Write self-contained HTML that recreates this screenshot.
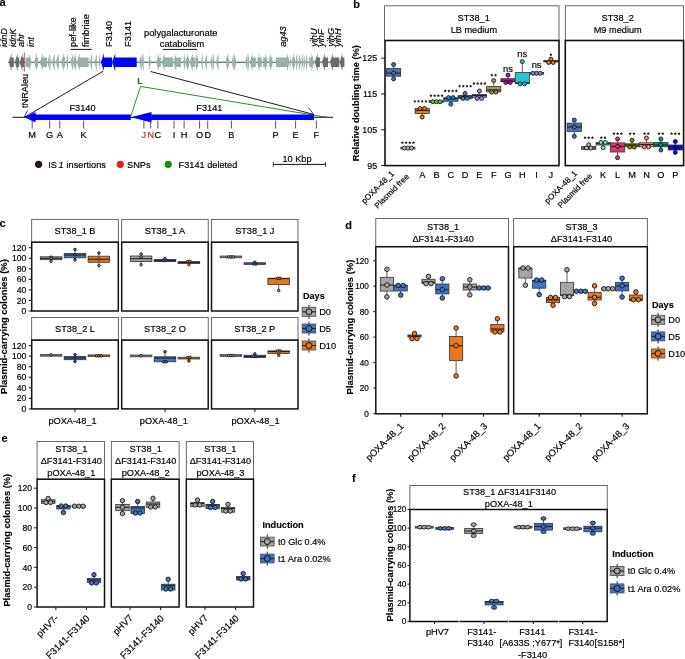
<!DOCTYPE html>
<html><head><meta charset="utf-8"><style>
html,body{margin:0;padding:0;background:#fff;width:685px;height:659px;overflow:hidden}
svg{display:block;font-family:"Liberation Sans", sans-serif;will-change:transform}
</style></head><body>
<svg width="685" height="659" viewBox="0 0 685 659" font-family="Liberation Sans, sans-serif">
<rect width="685" height="659" fill="#fff"/>
<text x="-0.50" y="5.60" font-size="11" font-weight="bold" stroke="#000" stroke-width="0.12">a</text>
<line x1="8.00" y1="62.20" x2="344.00" y2="62.20" stroke="#4a4040" stroke-width="1.1"/>
<polygon points="8.70,62.20 11.50,53.20 11.50,57.50 13.80,57.50 13.80,66.90 11.50,66.90 11.50,71.20" fill="#6b6b6b" stroke="none" stroke-width="0"/>
<polygon points="14.80,62.20 17.60,53.20 17.60,57.50 19.20,57.50 19.20,66.90 17.60,66.90 17.60,71.20" fill="#6b6b6b" stroke="none" stroke-width="0"/>
<polygon points="19.60,62.20 22.40,53.20 22.40,57.50 24.00,57.50 24.00,66.90 22.40,66.90 22.40,71.20" fill="#6b6b6b" stroke="none" stroke-width="0"/>
<polygon points="31.70,62.20 28.90,53.20 28.90,57.50 25.50,57.50 25.50,66.90 28.90,66.90 28.90,71.20" fill="#95b0a9" stroke="none" stroke-width="0"/>
<polygon points="34.10,62.20 36.90,53.20 36.90,57.50 38.20,57.50 38.20,66.90 36.90,66.90 36.90,71.20" fill="#95b0a9" stroke="none" stroke-width="0"/>
<polygon points="39.90,62.20 42.70,53.20 42.70,57.50 47.00,57.50 47.00,66.90 42.70,66.90 42.70,71.20" fill="#95b0a9" stroke="none" stroke-width="0"/>
<polygon points="47.50,62.20 49.60,53.20 49.60,57.50 49.60,57.50 49.60,66.90 49.60,66.90 49.60,71.20" fill="#95b0a9" stroke="none" stroke-width="0"/>
<polygon points="49.90,62.20 51.00,53.20 51.00,57.50 51.00,57.50 51.00,66.90 51.00,66.90 51.00,71.20" fill="#95b0a9" stroke="none" stroke-width="0"/>
<polygon points="51.90,62.20 54.60,53.20 54.60,57.50 54.60,57.50 54.60,66.90 54.60,66.90 54.60,71.20" fill="#95b0a9" stroke="none" stroke-width="0"/>
<polygon points="55.70,62.20 58.50,53.20 58.50,57.50 58.90,57.50 58.90,66.90 58.50,66.90 58.50,71.20" fill="#95b0a9" stroke="none" stroke-width="0"/>
<polygon points="61.00,62.20 63.80,53.20 63.80,57.50 65.10,57.50 65.10,66.90 63.80,66.90 63.80,71.20" fill="#95b0a9" stroke="none" stroke-width="0"/>
<polygon points="66.00,62.20 68.00,53.20 68.00,57.50 68.00,57.50 68.00,66.90 68.00,66.90 68.00,71.20" fill="#95b0a9" stroke="none" stroke-width="0"/>
<polygon points="70.40,62.20 73.20,53.20 73.20,57.50 73.20,57.50 73.20,66.90 73.20,66.90 73.20,71.20" fill="#95b0a9" stroke="none" stroke-width="0"/>
<polygon points="72.90,62.20 75.70,53.20 75.70,57.50 76.30,57.50 76.30,66.90 75.70,66.90 75.70,71.20" fill="#95b0a9" stroke="none" stroke-width="0"/>
<polygon points="76.80,62.20 79.60,53.20 79.60,57.50 88.70,57.50 88.70,66.90 79.60,66.90 79.60,71.20" fill="#95b0a9" stroke="none" stroke-width="0"/>
<polygon points="89.80,62.20 92.10,53.20 92.10,57.50 92.10,57.50 92.10,66.90 92.10,66.90 92.10,71.20" fill="#95b0a9" stroke="none" stroke-width="0"/>
<polygon points="94.60,62.20 96.80,53.20 96.80,57.50 96.80,57.50 96.80,66.90 96.80,66.90 96.80,71.20" fill="#95b0a9" stroke="none" stroke-width="0"/>
<polygon points="98.50,62.20 100.20,53.20 100.20,57.50 100.20,57.50 100.20,66.90 100.20,66.90 100.20,71.20" fill="#95b0a9" stroke="none" stroke-width="0"/>
<polygon points="139.00,62.20 141.60,53.20 141.60,57.50 141.60,57.50 141.60,66.90 141.60,66.90 141.60,71.20" fill="#95b0a9" stroke="none" stroke-width="0"/>
<polygon points="141.20,62.20 143.60,53.20 143.60,57.50 143.60,57.50 143.60,66.90 143.60,66.90 143.60,71.20" fill="#95b0a9" stroke="none" stroke-width="0"/>
<polygon points="151.00,62.20 148.80,53.20 148.80,57.50 148.80,57.50 148.80,66.90 148.80,66.90 148.80,71.20" fill="#95b0a9" stroke="none" stroke-width="0"/>
<polygon points="156.10,62.20 158.90,53.20 158.90,57.50 160.80,57.50 160.80,66.90 158.90,66.90 158.90,71.20" fill="#95b0a9" stroke="none" stroke-width="0"/>
<polygon points="161.80,62.20 164.60,53.20 164.60,57.50 173.00,57.50 173.00,66.90 164.60,66.90 164.60,71.20" fill="#95b0a9" stroke="none" stroke-width="0"/>
<polygon points="173.40,62.20 176.20,53.20 176.20,57.50 180.90,57.50 180.90,66.90 176.20,66.90 176.20,71.20" fill="#95b0a9" stroke="none" stroke-width="0"/>
<polygon points="183.10,62.20 185.00,53.20 185.00,57.50 185.00,57.50 185.00,66.90 185.00,66.90 185.00,71.20" fill="#95b0a9" stroke="none" stroke-width="0"/>
<polygon points="185.10,62.20 187.90,53.20 187.90,57.50 189.10,57.50 189.10,66.90 187.90,66.90 187.90,71.20" fill="#95b0a9" stroke="none" stroke-width="0"/>
<polygon points="189.80,62.20 192.60,53.20 192.60,57.50 194.80,57.50 194.80,66.90 192.60,66.90 192.60,71.20" fill="#95b0a9" stroke="none" stroke-width="0"/>
<polygon points="199.00,62.20 196.20,53.20 196.20,57.50 195.50,57.50 195.50,66.90 196.20,66.90 196.20,71.20" fill="#95b0a9" stroke="none" stroke-width="0"/>
<polygon points="200.80,62.20 202.60,53.20 202.60,57.50 202.60,57.50 202.60,66.90 202.60,66.90 202.60,71.20" fill="#95b0a9" stroke="none" stroke-width="0"/>
<polygon points="204.50,62.20 207.00,53.20 207.00,57.50 207.00,57.50 207.00,66.90 207.00,66.90 207.00,71.20" fill="#95b0a9" stroke="none" stroke-width="0"/>
<polygon points="210.20,62.20 212.40,53.20 212.40,57.50 212.40,57.50 212.40,66.90 212.40,66.90 212.40,71.20" fill="#95b0a9" stroke="none" stroke-width="0"/>
<polygon points="212.40,62.20 214.00,53.20 214.00,57.50 214.00,57.50 214.00,66.90 214.00,66.90 214.00,71.20" fill="#95b0a9" stroke="none" stroke-width="0"/>
<polygon points="215.90,62.20 218.50,53.20 218.50,57.50 218.50,57.50 218.50,66.90 218.50,66.90 218.50,71.20" fill="#95b0a9" stroke="none" stroke-width="0"/>
<polygon points="229.80,62.20 227.00,53.20 227.00,57.50 226.30,57.50 226.30,66.90 227.00,66.90 227.00,71.20" fill="#95b0a9" stroke="none" stroke-width="0"/>
<polygon points="231.80,62.20 233.30,53.20 233.30,57.50 233.30,57.50 233.30,66.90 233.30,66.90 233.30,71.20" fill="#95b0a9" stroke="none" stroke-width="0"/>
<polygon points="236.70,62.20 233.90,53.20 233.90,57.50 233.40,57.50 233.40,66.90 233.90,66.90 233.90,71.20" fill="#95b0a9" stroke="none" stroke-width="0"/>
<polygon points="245.10,62.20 247.50,53.20 247.50,57.50 247.50,57.50 247.50,66.90 247.50,66.90 247.50,71.20" fill="#95b0a9" stroke="none" stroke-width="0"/>
<polygon points="247.30,62.20 249.00,53.20 249.00,57.50 249.00,57.50 249.00,66.90 249.00,66.90 249.00,71.20" fill="#95b0a9" stroke="none" stroke-width="0"/>
<polygon points="249.80,62.20 252.60,53.20 252.60,57.50 255.80,57.50 255.80,66.90 252.60,66.90 252.60,71.20" fill="#95b0a9" stroke="none" stroke-width="0"/>
<polygon points="256.80,62.20 259.60,53.20 259.60,57.50 261.70,57.50 261.70,66.90 259.60,66.90 259.60,71.20" fill="#95b0a9" stroke="none" stroke-width="0"/>
<polygon points="267.90,62.20 265.10,53.20 265.10,57.50 263.20,57.50 263.20,66.90 265.10,66.90 265.10,71.20" fill="#95b0a9" stroke="none" stroke-width="0"/>
<polygon points="273.10,62.20 270.30,53.20 270.30,57.50 269.20,57.50 269.20,66.90 270.30,66.90 270.30,71.20" fill="#95b0a9" stroke="none" stroke-width="0"/>
<polygon points="289.80,62.20 287.00,53.20 287.00,57.50 275.90,57.50 275.90,66.90 287.00,66.90 287.00,71.20" fill="#95b0a9" stroke="none" stroke-width="0"/>
<polygon points="291.00,62.20 289.80,53.20 289.80,57.50 289.80,57.50 289.80,66.90 289.80,66.90 289.80,71.20" fill="#95b0a9" stroke="none" stroke-width="0"/>
<polygon points="295.90,62.20 293.10,53.20 293.10,57.50 292.20,57.50 292.20,66.90 293.10,66.90 293.10,71.20" fill="#95b0a9" stroke="none" stroke-width="0"/>
<polygon points="298.20,62.20 296.20,53.20 296.20,57.50 296.20,57.50 296.20,66.90 296.20,66.90 296.20,71.20" fill="#95b0a9" stroke="none" stroke-width="0"/>
<polygon points="301.20,62.20 298.80,53.20 298.80,57.50 298.80,57.50 298.80,66.90 298.80,66.90 298.80,71.20" fill="#95b0a9" stroke="none" stroke-width="0"/>
<polygon points="303.40,62.20 301.60,53.20 301.60,57.50 301.60,57.50 301.60,66.90 301.60,66.90 301.60,71.20" fill="#95b0a9" stroke="none" stroke-width="0"/>
<polygon points="305.60,62.20 303.60,53.20 303.60,57.50 303.60,57.50 303.60,66.90 303.60,66.90 303.60,71.20" fill="#95b0a9" stroke="none" stroke-width="0"/>
<polygon points="307.80,62.20 306.00,53.20 306.00,57.50 306.00,57.50 306.00,66.90 306.00,66.90 306.00,71.20" fill="#95b0a9" stroke="none" stroke-width="0"/>
<polygon points="314.30,62.20 311.50,53.20 311.50,57.50 309.20,57.50 309.20,66.90 311.50,66.90 311.50,71.20" fill="#95b0a9" stroke="none" stroke-width="0"/>
<polygon points="314.80,62.20 317.60,53.20 317.60,57.50 319.90,57.50 319.90,66.90 317.60,66.90 317.60,71.20" fill="#6b6b6b" stroke="none" stroke-width="0"/>
<polygon points="322.00,62.20 324.80,53.20 324.80,57.50 328.00,57.50 328.00,66.90 324.80,66.90 324.80,71.20" fill="#6b6b6b" stroke="none" stroke-width="0"/>
<polygon points="330.00,62.20 332.80,53.20 332.80,57.50 339.20,57.50 339.20,66.90 332.80,66.90 332.80,71.20" fill="#6b6b6b" stroke="none" stroke-width="0"/>
<polygon points="339.60,62.20 342.40,53.20 342.40,57.50 344.40,57.50 344.40,66.90 342.40,66.90 342.40,71.20" fill="#6b6b6b" stroke="none" stroke-width="0"/>
<polygon points="100.90,62.20 103.90,53.20 103.90,57.50 112.10,57.50 112.10,66.90 103.90,66.90 103.90,71.20" fill="#0000ff" stroke="none" stroke-width="0"/>
<polygon points="112.10,62.20 115.20,53.20 115.20,57.50 136.70,57.50 136.70,66.90 115.20,66.90 115.20,71.20" fill="#0000ff" stroke="none" stroke-width="0"/>
<line x1="24.30" y1="52.50" x2="24.30" y2="71.50" stroke="#c8324a" stroke-width="0.9"/>
<text x="6.70" y="46.90" font-size="9.2" font-style="italic" stroke="#000" stroke-width="0.18" transform="rotate(-90 6.7 46.9)">idnD</text>
<text x="16.00" y="46.90" font-size="9.2" font-style="italic" stroke="#000" stroke-width="0.18" transform="rotate(-90 16.0 46.9)">idnK</text>
<text x="24.00" y="46.90" font-size="9.2" font-style="italic" stroke="#000" stroke-width="0.18" transform="rotate(-90 24.0 46.9)">ahr</text>
<text x="34.00" y="46.90" font-size="9.2" font-style="italic" stroke="#000" stroke-width="0.18" transform="rotate(-90 34.0 46.9)">int</text>
<text x="76.20" y="46.90" font-size="9.2" stroke="#000" stroke-width="0.18" transform="rotate(-90 76.2 46.9)">pef-like</text>
<text x="89.30" y="46.90" font-size="9.2" stroke="#000" stroke-width="0.18" transform="rotate(-90 89.3 46.9)">fimbriae</text>
<text x="112.30" y="46.90" font-size="9.2" stroke="#000" stroke-width="0.18" transform="rotate(-90 112.3 46.9)">F3140</text>
<text x="131.00" y="46.90" font-size="9.2" stroke="#000" stroke-width="0.18" transform="rotate(-90 131.0 46.9)">F3141</text>
<text x="286.00" y="46.80" font-size="9.2" font-style="italic" stroke="#000" stroke-width="0.18" transform="rotate(-90 286.0 46.8)">ag43</text>
<text x="316.80" y="46.80" font-size="9.2" font-style="italic" stroke="#000" stroke-width="0.18" transform="rotate(-90 316.8 46.8)">yihU</text>
<text x="324.00" y="46.80" font-size="9.2" font-style="italic" stroke="#000" stroke-width="0.18" transform="rotate(-90 324.0 46.8)">yihF</text>
<text x="333.80" y="46.80" font-size="9.2" font-style="italic" stroke="#000" stroke-width="0.18" transform="rotate(-90 333.8 46.8)">yihG</text>
<text x="341.00" y="46.80" font-size="9.2" font-style="italic" stroke="#000" stroke-width="0.18" transform="rotate(-90 341.0 46.8)">yihH</text>
<line x1="70.70" y1="49.40" x2="91.70" y2="49.40" stroke="#111" stroke-width="1"/>
<text x="144.00" y="35.80" font-size="9.3" stroke="#000" stroke-width="0.18">polygalacturonate</text>
<text x="159.80" y="46.80" font-size="9.3" stroke="#000" stroke-width="0.18">catabolism</text>
<line x1="163.00" y1="49.40" x2="197.00" y2="49.40" stroke="#111" stroke-width="1"/>
<line x1="103.20" y1="71.20" x2="24.30" y2="117.30" stroke="#111" stroke-width="0.95"/>
<line x1="150.50" y1="71.50" x2="314.00" y2="114.50" stroke="#111" stroke-width="0.95"/>
<polyline points="130.7,116.5 140.6,86.4 327,117.3" fill="none" stroke="#1e8a1e" stroke-width="0.95"/>
<text x="137.20" y="83.80" font-size="9.0" font-weight="bold" fill="#1e8a1e" stroke="#1e8a1e" stroke-width="0.12">L</text>
<line x1="12.50" y1="117.30" x2="333.00" y2="117.30" stroke="#111" stroke-width="1.0"/>
<line x1="322.00" y1="117.30" x2="327.50" y2="117.30" stroke="#e02020" stroke-width="1.2"/>
<polygon points="24.30,117.30 35.50,112.00 35.50,114.55 130.70,114.55 130.70,120.05 35.50,120.05 35.50,122.60" fill="#0000ff" stroke="none" stroke-width="0"/>
<polygon points="130.70,117.30 151.50,112.00 151.50,114.55 314.00,114.55 314.00,120.05 151.50,120.05 151.50,122.60" fill="#0000ff" stroke="none" stroke-width="0"/>
<line x1="24.30" y1="117.30" x2="27.60" y2="110.30" stroke="#111" stroke-width="0.8"/>
<line x1="308.50" y1="107.50" x2="313.50" y2="114.20" stroke="#111" stroke-width="0.8"/>
<text x="27.60" y="108.00" font-size="9.2" stroke="#000" stroke-width="0.18" transform="rotate(-90 27.6 108.0)">tNRAleu</text>
<text x="82.50" y="111.00" font-size="9.2" text-anchor="middle" stroke="#000" stroke-width="0.18">F3140</text>
<text x="209.40" y="110.70" font-size="9.2" text-anchor="middle" stroke="#000" stroke-width="0.18">F3141</text>
<line x1="32.20" y1="120.60" x2="32.20" y2="128.50" stroke="#555" stroke-width="1.0"/>
<text x="32.20" y="137.60" font-size="9.2" text-anchor="middle" stroke="#000" stroke-width="0.18">M</text>
<line x1="49.70" y1="120.60" x2="49.70" y2="128.50" stroke="#555" stroke-width="1.0"/>
<text x="49.70" y="137.60" font-size="9.2" text-anchor="middle" stroke="#000" stroke-width="0.18">G</text>
<line x1="59.80" y1="120.60" x2="59.80" y2="128.50" stroke="#555" stroke-width="1.0"/>
<text x="59.80" y="137.60" font-size="9.2" text-anchor="middle" stroke="#000" stroke-width="0.18">A</text>
<line x1="83.60" y1="120.60" x2="83.60" y2="128.50" stroke="#555" stroke-width="1.0"/>
<text x="83.60" y="137.60" font-size="9.2" text-anchor="middle" stroke="#000" stroke-width="0.18">K</text>
<line x1="143.90" y1="120.60" x2="143.90" y2="128.50" stroke="#555" stroke-width="1.0"/>
<text x="143.90" y="137.60" font-size="9.2" text-anchor="middle" fill="#e02020" stroke="#e02020" stroke-width="0.18">J</text>
<line x1="150.70" y1="120.60" x2="150.70" y2="128.50" stroke="#555" stroke-width="1.0"/>
<text x="150.70" y="137.60" font-size="9.2" text-anchor="middle" fill="#e02020" stroke="#e02020" stroke-width="0.18">N</text>
<line x1="157.90" y1="120.60" x2="157.90" y2="128.50" stroke="#555" stroke-width="1.0"/>
<text x="157.90" y="137.60" font-size="9.2" text-anchor="middle" stroke="#000" stroke-width="0.18">C</text>
<line x1="174.00" y1="120.60" x2="174.00" y2="128.50" stroke="#555" stroke-width="1.0"/>
<text x="174.00" y="137.60" font-size="9.2" text-anchor="middle" stroke="#000" stroke-width="0.18">I</text>
<line x1="184.10" y1="120.60" x2="184.10" y2="128.50" stroke="#555" stroke-width="1.0"/>
<text x="184.10" y="137.60" font-size="9.2" text-anchor="middle" stroke="#000" stroke-width="0.18">H</text>
<line x1="199.60" y1="120.60" x2="199.60" y2="128.50" stroke="#555" stroke-width="1.0"/>
<text x="199.60" y="137.60" font-size="9.2" text-anchor="middle" stroke="#000" stroke-width="0.18">O</text>
<line x1="207.70" y1="120.60" x2="207.70" y2="128.50" stroke="#555" stroke-width="1.0"/>
<text x="207.70" y="137.60" font-size="9.2" text-anchor="middle" stroke="#000" stroke-width="0.18">D</text>
<line x1="231.40" y1="120.60" x2="231.40" y2="128.50" stroke="#555" stroke-width="1.0"/>
<text x="231.40" y="137.60" font-size="9.2" text-anchor="middle" stroke="#000" stroke-width="0.18">B</text>
<line x1="275.60" y1="120.60" x2="275.60" y2="128.50" stroke="#555" stroke-width="1.0"/>
<text x="275.60" y="137.60" font-size="9.2" text-anchor="middle" stroke="#000" stroke-width="0.18">P</text>
<line x1="295.60" y1="120.60" x2="295.60" y2="128.50" stroke="#555" stroke-width="1.0"/>
<text x="295.60" y="137.60" font-size="9.2" text-anchor="middle" stroke="#000" stroke-width="0.18">E</text>
<line x1="316.40" y1="120.60" x2="316.40" y2="128.50" stroke="#555" stroke-width="1.0"/>
<text x="316.40" y="137.60" font-size="9.2" text-anchor="middle" stroke="#000" stroke-width="0.18">F</text>
<circle cx="38.60" cy="164.30" r="3.6" fill="#2a1212" stroke="none" stroke-width="0"/>
<text x="48.2" y="167.6" font-size="9.2" stroke="#000" stroke-width="0.18">IS<tspan font-style="italic" dx="1.6">1</tspan><tspan dx="0.4"> insertions</tspan></text>
<circle cx="120.30" cy="164.30" r="3.6" fill="#f01818" stroke="none" stroke-width="0"/>
<text x="127.00" y="167.60" font-size="9.2" stroke="#000" stroke-width="0.18">SNPs</text>
<circle cx="168.20" cy="164.30" r="3.6" fill="#178a17" stroke="none" stroke-width="0"/>
<text x="178.60" y="167.60" font-size="9.2" stroke="#000" stroke-width="0.18">F3141 deleted</text>
<line x1="273.00" y1="164.40" x2="325.80" y2="164.40" stroke="#111" stroke-width="1.0"/>
<line x1="273.30" y1="162.00" x2="273.30" y2="166.80" stroke="#111" stroke-width="0.8"/>
<line x1="325.50" y1="162.00" x2="325.50" y2="166.80" stroke="#111" stroke-width="0.8"/>
<text x="297.00" y="161.80" font-size="9.2" text-anchor="middle" stroke="#000" stroke-width="0.18">10 Kbp</text>
<text x="353.20" y="7.80" font-size="11" font-weight="bold" stroke="#000" stroke-width="0.12">b</text>
<rect x="384.60" y="5.80" width="174.40" height="34.70" fill="#fff" stroke="#444" stroke-width="0.8"/>
<rect x="565.30" y="5.80" width="118.30" height="34.70" fill="#fff" stroke="#444" stroke-width="0.8"/>
<text x="473.70" y="21.00" font-size="9.2" text-anchor="middle" stroke="#000" stroke-width="0.18">ST38_1</text>
<text x="473.90" y="32.60" font-size="9.2" text-anchor="middle" stroke="#000" stroke-width="0.18">LB medium</text>
<text x="617.70" y="21.00" font-size="9.2" text-anchor="middle" stroke="#000" stroke-width="0.18">ST38_2</text>
<text x="617.70" y="32.60" font-size="9.2" text-anchor="middle" stroke="#000" stroke-width="0.18">M9 medium</text>
<line x1="381.30" y1="165.50" x2="385.30" y2="165.50" stroke="#222" stroke-width="1.1"/>
<text x="377.10" y="168.70" font-size="8.9" text-anchor="end" stroke="#000" stroke-width="0.18">95</text>
<line x1="381.30" y1="129.73" x2="385.30" y2="129.73" stroke="#222" stroke-width="1.1"/>
<text x="377.10" y="132.93" font-size="8.9" text-anchor="end" stroke="#000" stroke-width="0.18">105</text>
<line x1="381.30" y1="93.96" x2="385.30" y2="93.96" stroke="#222" stroke-width="1.1"/>
<text x="377.10" y="97.16" font-size="8.9" text-anchor="end" stroke="#000" stroke-width="0.18">115</text>
<line x1="381.30" y1="58.19" x2="385.30" y2="58.19" stroke="#222" stroke-width="1.1"/>
<text x="377.10" y="61.39" font-size="8.9" text-anchor="end" stroke="#000" stroke-width="0.18">125</text>
<text x="359.30" y="103.20" font-size="9.3" font-weight="bold" text-anchor="middle" stroke="#000" stroke-width="0.12" transform="rotate(-90 359.3 103.2)">Relative doubling time (%)</text>
<line x1="393.60" y1="64.50" x2="393.60" y2="68.60" stroke="#333" stroke-width="0.8"/>
<line x1="393.60" y1="76.20" x2="393.60" y2="78.90" stroke="#333" stroke-width="0.8"/>
<rect x="386.50" y="68.60" width="14.20" height="7.60" fill="#4a72b8" stroke="#333" stroke-width="0.8"/>
<line x1="386.50" y1="73.10" x2="400.70" y2="73.10" stroke="#222" stroke-width="1.1"/>
<circle cx="393.60" cy="64.50" r="2.0" fill="#4a72b8" stroke="#111" stroke-width="0.85"/>
<circle cx="393.60" cy="73.10" r="2.0" fill="#4a72b8" stroke="#111" stroke-width="0.85"/>
<circle cx="393.60" cy="78.90" r="2.0" fill="#4a72b8" stroke="#111" stroke-width="0.85"/>
<rect x="400.80" y="147.20" width="14.20" height="1.80" fill="#b8b8b8" stroke="#3a3a3a" stroke-width="0.75"/>
<line x1="400.80" y1="148.10" x2="415.00" y2="148.10" stroke="#333" stroke-width="0.6"/>
<circle cx="404.30" cy="148.10" r="2.0" fill="#b8b8b8" stroke="#111" stroke-width="0.85"/>
<circle cx="407.90" cy="148.10" r="2.0" fill="#b8b8b8" stroke="#111" stroke-width="0.85"/>
<circle cx="411.50" cy="148.10" r="2.0" fill="#b8b8b8" stroke="#111" stroke-width="0.85"/>
<polygon points="402.35,140.90 402.82,141.95 403.97,142.07 403.11,142.85 403.35,143.98 402.35,143.40 401.35,143.98 401.59,142.85 400.73,142.07 401.88,141.95" fill="#111" stroke="none" stroke-width="0"/>
<polygon points="406.05,140.90 406.52,141.95 407.67,142.07 406.81,142.85 407.05,143.98 406.05,143.40 405.05,143.98 405.29,142.85 404.43,142.07 405.58,141.95" fill="#111" stroke="none" stroke-width="0"/>
<polygon points="409.75,140.90 410.22,141.95 411.37,142.07 410.51,142.85 410.75,143.98 409.75,143.40 408.75,143.98 408.99,142.85 408.13,142.07 409.28,141.95" fill="#111" stroke="none" stroke-width="0"/>
<polygon points="413.45,140.90 413.92,141.95 415.07,142.07 414.21,142.85 414.45,143.98 413.45,143.40 412.45,143.98 412.69,142.85 411.83,142.07 412.98,141.95" fill="#111" stroke="none" stroke-width="0"/>
<line x1="422.20" y1="113.50" x2="422.20" y2="117.00" stroke="#333" stroke-width="0.8"/>
<rect x="415.10" y="108.50" width="14.20" height="5.00" fill="#ea7b1e" stroke="#333" stroke-width="0.8"/>
<line x1="415.10" y1="110.50" x2="429.30" y2="110.50" stroke="#222" stroke-width="1.1"/>
<circle cx="420.00" cy="108.50" r="2.0" fill="#ea7b1e" stroke="#111" stroke-width="0.85"/>
<circle cx="424.40" cy="108.50" r="2.0" fill="#ea7b1e" stroke="#111" stroke-width="0.85"/>
<circle cx="422.20" cy="117.00" r="2.0" fill="#ea7b1e" stroke="#111" stroke-width="0.85"/>
<polygon points="414.80,99.60 415.27,100.65 416.42,100.77 415.56,101.55 415.80,102.68 414.80,102.10 413.80,102.68 414.04,101.55 413.18,100.77 414.33,100.65" fill="#111" stroke="none" stroke-width="0"/>
<polygon points="418.50,99.60 418.97,100.65 420.12,100.77 419.26,101.55 419.50,102.68 418.50,102.10 417.50,102.68 417.74,101.55 416.88,100.77 418.03,100.65" fill="#111" stroke="none" stroke-width="0"/>
<polygon points="422.20,99.60 422.67,100.65 423.82,100.77 422.96,101.55 423.20,102.68 422.20,102.10 421.20,102.68 421.44,101.55 420.58,100.77 421.73,100.65" fill="#111" stroke="none" stroke-width="0"/>
<polygon points="425.90,99.60 426.37,100.65 427.52,100.77 426.66,101.55 426.90,102.68 425.90,102.10 424.90,102.68 425.14,101.55 424.28,100.77 425.43,100.65" fill="#111" stroke="none" stroke-width="0"/>
<polygon points="429.60,99.60 430.07,100.65 431.22,100.77 430.36,101.55 430.60,102.68 429.60,102.10 428.60,102.68 428.84,101.55 427.98,100.77 429.13,100.65" fill="#111" stroke="none" stroke-width="0"/>
<rect x="429.40" y="100.80" width="14.20" height="1.80" fill="#6dbf3a" stroke="#3a3a3a" stroke-width="0.75"/>
<line x1="429.40" y1="101.70" x2="443.60" y2="101.70" stroke="#333" stroke-width="0.6"/>
<circle cx="432.90" cy="101.70" r="2.0" fill="#6dbf3a" stroke="#111" stroke-width="0.85"/>
<circle cx="436.50" cy="101.70" r="2.0" fill="#6dbf3a" stroke="#111" stroke-width="0.85"/>
<circle cx="440.10" cy="101.70" r="2.0" fill="#6dbf3a" stroke="#111" stroke-width="0.85"/>
<polygon points="430.95,93.90 431.42,94.95 432.57,95.07 431.71,95.85 431.95,96.98 430.95,96.40 429.95,96.98 430.19,95.85 429.33,95.07 430.48,94.95" fill="#111" stroke="none" stroke-width="0"/>
<polygon points="434.65,93.90 435.12,94.95 436.27,95.07 435.41,95.85 435.65,96.98 434.65,96.40 433.65,96.98 433.89,95.85 433.03,95.07 434.18,94.95" fill="#111" stroke="none" stroke-width="0"/>
<polygon points="438.35,93.90 438.82,94.95 439.97,95.07 439.11,95.85 439.35,96.98 438.35,96.40 437.35,96.98 437.59,95.85 436.73,95.07 437.88,94.95" fill="#111" stroke="none" stroke-width="0"/>
<polygon points="442.05,93.90 442.52,94.95 443.67,95.07 442.81,95.85 443.05,96.98 442.05,96.40 441.05,96.98 441.29,95.85 440.43,95.07 441.58,94.95" fill="#111" stroke="none" stroke-width="0"/>
<line x1="450.80" y1="97.60" x2="450.80" y2="97.80" stroke="#333" stroke-width="0.8"/>
<line x1="450.80" y1="101.30" x2="450.80" y2="104.20" stroke="#333" stroke-width="0.8"/>
<rect x="443.70" y="97.80" width="14.20" height="3.50" fill="#1f88d0" stroke="#333" stroke-width="0.8"/>
<line x1="443.70" y1="98.60" x2="457.90" y2="98.60" stroke="#222" stroke-width="1.1"/>
<circle cx="448.60" cy="97.60" r="2.0" fill="#1f88d0" stroke="#111" stroke-width="0.85"/>
<circle cx="453.00" cy="97.60" r="2.0" fill="#1f88d0" stroke="#111" stroke-width="0.85"/>
<circle cx="450.80" cy="104.20" r="2.0" fill="#1f88d0" stroke="#111" stroke-width="0.85"/>
<polygon points="445.25,89.30 445.72,90.35 446.87,90.47 446.01,91.25 446.25,92.38 445.25,91.80 444.25,92.38 444.49,91.25 443.63,90.47 444.78,90.35" fill="#111" stroke="none" stroke-width="0"/>
<polygon points="448.95,89.30 449.42,90.35 450.57,90.47 449.71,91.25 449.95,92.38 448.95,91.80 447.95,92.38 448.19,91.25 447.33,90.47 448.48,90.35" fill="#111" stroke="none" stroke-width="0"/>
<polygon points="452.65,89.30 453.12,90.35 454.27,90.47 453.41,91.25 453.65,92.38 452.65,91.80 451.65,92.38 451.89,91.25 451.03,90.47 452.18,90.35" fill="#111" stroke="none" stroke-width="0"/>
<polygon points="456.35,89.30 456.82,90.35 457.97,90.47 457.11,91.25 457.35,92.38 456.35,91.80 455.35,92.38 455.59,91.25 454.73,90.47 455.88,90.35" fill="#111" stroke="none" stroke-width="0"/>
<line x1="465.10" y1="93.40" x2="465.10" y2="95.40" stroke="#333" stroke-width="0.8"/>
<rect x="458.00" y="95.40" width="14.20" height="3.30" fill="#4b7ea6" stroke="#333" stroke-width="0.8"/>
<line x1="458.00" y1="97.00" x2="472.20" y2="97.00" stroke="#222" stroke-width="1.1"/>
<circle cx="465.10" cy="93.40" r="2.0" fill="#4b7ea6" stroke="#111" stroke-width="0.85"/>
<circle cx="462.90" cy="98.40" r="2.0" fill="#4b7ea6" stroke="#111" stroke-width="0.85"/>
<circle cx="467.30" cy="98.40" r="2.0" fill="#4b7ea6" stroke="#111" stroke-width="0.85"/>
<polygon points="459.55,84.50 460.02,85.55 461.17,85.67 460.31,86.45 460.55,87.58 459.55,87.00 458.55,87.58 458.79,86.45 457.93,85.67 459.08,85.55" fill="#111" stroke="none" stroke-width="0"/>
<polygon points="463.25,84.50 463.72,85.55 464.87,85.67 464.01,86.45 464.25,87.58 463.25,87.00 462.25,87.58 462.49,86.45 461.63,85.67 462.78,85.55" fill="#111" stroke="none" stroke-width="0"/>
<polygon points="466.95,84.50 467.42,85.55 468.57,85.67 467.71,86.45 467.95,87.58 466.95,87.00 465.95,87.58 466.19,86.45 465.33,85.67 466.48,85.55" fill="#111" stroke="none" stroke-width="0"/>
<polygon points="470.65,84.50 471.12,85.55 472.27,85.67 471.41,86.45 471.65,87.58 470.65,87.00 469.65,87.58 469.89,86.45 469.03,85.67 470.18,85.55" fill="#111" stroke="none" stroke-width="0"/>
<line x1="479.40" y1="91.00" x2="479.40" y2="94.40" stroke="#333" stroke-width="0.8"/>
<line x1="479.40" y1="97.30" x2="479.40" y2="98.40" stroke="#333" stroke-width="0.8"/>
<rect x="472.30" y="94.40" width="14.20" height="2.90" fill="#a68ae6" stroke="#333" stroke-width="0.8"/>
<line x1="472.30" y1="95.50" x2="486.50" y2="95.50" stroke="#222" stroke-width="1.1"/>
<circle cx="479.40" cy="91.00" r="2.0" fill="#a68ae6" stroke="#111" stroke-width="0.85"/>
<circle cx="477.20" cy="98.40" r="2.0" fill="#a68ae6" stroke="#111" stroke-width="0.85"/>
<circle cx="481.60" cy="98.40" r="2.0" fill="#a68ae6" stroke="#111" stroke-width="0.85"/>
<polygon points="473.85,81.80 474.32,82.85 475.47,82.97 474.61,83.75 474.85,84.88 473.85,84.30 472.85,84.88 473.09,83.75 472.23,82.97 473.38,82.85" fill="#111" stroke="none" stroke-width="0"/>
<polygon points="477.55,81.80 478.02,82.85 479.17,82.97 478.31,83.75 478.55,84.88 477.55,84.30 476.55,84.88 476.79,83.75 475.93,82.97 477.08,82.85" fill="#111" stroke="none" stroke-width="0"/>
<polygon points="481.25,81.80 481.72,82.85 482.87,82.97 482.01,83.75 482.25,84.88 481.25,84.30 480.25,84.88 480.49,83.75 479.63,82.97 480.78,82.85" fill="#111" stroke="none" stroke-width="0"/>
<polygon points="484.95,81.80 485.42,82.85 486.57,82.97 485.71,83.75 485.95,84.88 484.95,84.30 483.95,84.88 484.19,83.75 483.33,82.97 484.48,82.85" fill="#111" stroke="none" stroke-width="0"/>
<line x1="493.70" y1="80.60" x2="493.70" y2="86.40" stroke="#333" stroke-width="0.8"/>
<line x1="493.70" y1="91.90" x2="493.70" y2="92.10" stroke="#333" stroke-width="0.8"/>
<rect x="486.60" y="86.40" width="14.20" height="5.50" fill="#a39558" stroke="#333" stroke-width="0.8"/>
<line x1="486.60" y1="90.00" x2="500.80" y2="90.00" stroke="#222" stroke-width="1.1"/>
<circle cx="493.70" cy="80.60" r="2.0" fill="#a39558" stroke="#111" stroke-width="0.85"/>
<circle cx="491.50" cy="92.10" r="2.0" fill="#a39558" stroke="#111" stroke-width="0.85"/>
<circle cx="495.90" cy="92.10" r="2.0" fill="#a39558" stroke="#111" stroke-width="0.85"/>
<polygon points="491.85,73.40 492.32,74.45 493.47,74.57 492.61,75.35 492.85,76.48 491.85,75.90 490.85,76.48 491.09,75.35 490.23,74.57 491.38,74.45" fill="#111" stroke="none" stroke-width="0"/>
<polygon points="495.55,73.40 496.02,74.45 497.17,74.57 496.31,75.35 496.55,76.48 495.55,75.90 494.55,76.48 494.79,75.35 493.93,74.57 495.08,74.45" fill="#111" stroke="none" stroke-width="0"/>
<line x1="508.00" y1="75.10" x2="508.00" y2="78.70" stroke="#333" stroke-width="0.8"/>
<line x1="508.00" y1="81.70" x2="508.00" y2="82.50" stroke="#333" stroke-width="0.8"/>
<rect x="500.90" y="78.70" width="14.20" height="3.00" fill="#a0179f" stroke="#333" stroke-width="0.8"/>
<line x1="500.90" y1="81.40" x2="515.10" y2="81.40" stroke="#222" stroke-width="1.1"/>
<circle cx="508.00" cy="75.10" r="2.0" fill="#a0179f" stroke="#111" stroke-width="0.85"/>
<circle cx="505.80" cy="82.50" r="2.0" fill="#a0179f" stroke="#111" stroke-width="0.85"/>
<circle cx="510.20" cy="82.50" r="2.0" fill="#a0179f" stroke="#111" stroke-width="0.85"/>
<text x="508.00" y="71.60" font-size="9.4" text-anchor="middle" stroke="#000" stroke-width="0.18">ns</text>
<line x1="522.30" y1="61.60" x2="522.30" y2="72.60" stroke="#333" stroke-width="0.8"/>
<line x1="522.30" y1="83.60" x2="522.30" y2="83.90" stroke="#333" stroke-width="0.8"/>
<rect x="515.20" y="72.60" width="14.20" height="11.00" fill="#22c5c9" stroke="#333" stroke-width="0.8"/>
<line x1="515.20" y1="83.00" x2="529.40" y2="83.00" stroke="#222" stroke-width="1.1"/>
<circle cx="522.30" cy="61.60" r="2.0" fill="#22c5c9" stroke="#111" stroke-width="0.85"/>
<circle cx="520.10" cy="83.90" r="2.0" fill="#22c5c9" stroke="#111" stroke-width="0.85"/>
<circle cx="524.50" cy="83.90" r="2.0" fill="#22c5c9" stroke="#111" stroke-width="0.85"/>
<text x="522.30" y="56.80" font-size="9.4" text-anchor="middle" stroke="#000" stroke-width="0.18">ns</text>
<rect x="529.50" y="72.40" width="14.20" height="1.80" fill="#7f87d6" stroke="#3a3a3a" stroke-width="0.75"/>
<line x1="529.50" y1="73.30" x2="543.70" y2="73.30" stroke="#333" stroke-width="0.6"/>
<circle cx="533.00" cy="73.30" r="2.0" fill="#7f87d6" stroke="#111" stroke-width="0.85"/>
<circle cx="536.60" cy="73.30" r="2.0" fill="#7f87d6" stroke="#111" stroke-width="0.85"/>
<circle cx="540.20" cy="73.30" r="2.0" fill="#7f87d6" stroke="#111" stroke-width="0.85"/>
<text x="536.60" y="68.30" font-size="9.4" text-anchor="middle" stroke="#000" stroke-width="0.18">ns</text>
<line x1="550.90" y1="59.20" x2="550.90" y2="60.50" stroke="#333" stroke-width="0.8"/>
<line x1="550.90" y1="62.00" x2="550.90" y2="62.50" stroke="#333" stroke-width="0.8"/>
<rect x="543.80" y="60.50" width="14.20" height="1.50" fill="#c9800f" stroke="#333" stroke-width="0.8"/>
<line x1="543.80" y1="61.20" x2="558.00" y2="61.20" stroke="#222" stroke-width="1.1"/>
<circle cx="550.90" cy="59.20" r="2.0" fill="#c9800f" stroke="#111" stroke-width="0.85"/>
<circle cx="548.70" cy="62.50" r="2.0" fill="#c9800f" stroke="#111" stroke-width="0.85"/>
<circle cx="553.10" cy="62.50" r="2.0" fill="#c9800f" stroke="#111" stroke-width="0.85"/>
<polygon points="550.90,52.90 551.37,53.95 552.52,54.07 551.66,54.85 551.90,55.98 550.90,55.40 549.90,55.98 550.14,54.85 549.28,54.07 550.43,53.95" fill="#111" stroke="none" stroke-width="0"/>
<line x1="574.30" y1="120.00" x2="574.30" y2="123.10" stroke="#333" stroke-width="0.8"/>
<line x1="574.30" y1="131.50" x2="574.30" y2="136.30" stroke="#333" stroke-width="0.8"/>
<rect x="567.20" y="123.10" width="14.20" height="8.40" fill="#4a72b8" stroke="#333" stroke-width="0.8"/>
<line x1="567.20" y1="127.00" x2="581.40" y2="127.00" stroke="#222" stroke-width="1.1"/>
<circle cx="574.30" cy="120.00" r="2.0" fill="#4a72b8" stroke="#111" stroke-width="0.85"/>
<circle cx="574.30" cy="127.00" r="2.0" fill="#4a72b8" stroke="#111" stroke-width="0.85"/>
<circle cx="574.30" cy="136.30" r="2.0" fill="#4a72b8" stroke="#111" stroke-width="0.85"/>
<line x1="588.73" y1="144.70" x2="588.73" y2="146.40" stroke="#333" stroke-width="0.8"/>
<rect x="581.63" y="146.40" width="14.20" height="3.00" fill="#b8b8b8" stroke="#333" stroke-width="0.8"/>
<line x1="581.63" y1="148.00" x2="595.83" y2="148.00" stroke="#222" stroke-width="1.1"/>
<circle cx="588.73" cy="144.70" r="2.0" fill="#b8b8b8" stroke="#111" stroke-width="0.85"/>
<circle cx="586.53" cy="148.00" r="2.0" fill="#b8b8b8" stroke="#111" stroke-width="0.85"/>
<circle cx="590.93" cy="148.00" r="2.0" fill="#b8b8b8" stroke="#111" stroke-width="0.85"/>
<polygon points="585.03,136.00 585.50,137.05 586.65,137.17 585.79,137.95 586.03,139.08 585.03,138.50 584.03,139.08 584.27,137.95 583.41,137.17 584.56,137.05" fill="#111" stroke="none" stroke-width="0"/>
<polygon points="588.73,136.00 589.20,137.05 590.35,137.17 589.49,137.95 589.73,139.08 588.73,138.50 587.73,139.08 587.97,137.95 587.11,137.17 588.26,137.05" fill="#111" stroke="none" stroke-width="0"/>
<polygon points="592.43,136.00 592.90,137.05 594.05,137.17 593.19,137.95 593.43,139.08 592.43,138.50 591.43,139.08 591.67,137.95 590.81,137.17 591.96,137.05" fill="#111" stroke="none" stroke-width="0"/>
<line x1="603.16" y1="145.00" x2="603.16" y2="147.70" stroke="#333" stroke-width="0.8"/>
<rect x="596.06" y="142.40" width="14.20" height="2.60" fill="#7fdbb5" stroke="#333" stroke-width="0.8"/>
<line x1="596.06" y1="143.70" x2="610.26" y2="143.70" stroke="#222" stroke-width="1.1"/>
<circle cx="600.96" cy="142.40" r="2.0" fill="#7fdbb5" stroke="#111" stroke-width="0.85"/>
<circle cx="605.36" cy="142.40" r="2.0" fill="#7fdbb5" stroke="#111" stroke-width="0.85"/>
<circle cx="603.16" cy="147.70" r="2.0" fill="#7fdbb5" stroke="#111" stroke-width="0.85"/>
<polygon points="601.31,136.00 601.78,137.05 602.93,137.17 602.07,137.95 602.31,139.08 601.31,138.50 600.31,139.08 600.55,137.95 599.69,137.17 600.84,137.05" fill="#111" stroke="none" stroke-width="0"/>
<polygon points="605.01,136.00 605.48,137.05 606.63,137.17 605.77,137.95 606.01,139.08 605.01,138.50 604.01,139.08 604.25,137.95 603.39,137.17 604.54,137.05" fill="#111" stroke="none" stroke-width="0"/>
<line x1="617.59" y1="138.90" x2="617.59" y2="142.90" stroke="#333" stroke-width="0.8"/>
<line x1="617.59" y1="152.00" x2="617.59" y2="157.70" stroke="#333" stroke-width="0.8"/>
<rect x="610.49" y="142.90" width="14.20" height="9.10" fill="#d9386a" stroke="#333" stroke-width="0.8"/>
<line x1="610.49" y1="146.40" x2="624.69" y2="146.40" stroke="#222" stroke-width="1.1"/>
<circle cx="617.59" cy="138.90" r="2.0" fill="#d9386a" stroke="#111" stroke-width="0.85"/>
<circle cx="617.59" cy="146.40" r="2.0" fill="#d9386a" stroke="#111" stroke-width="0.85"/>
<circle cx="617.59" cy="157.70" r="2.0" fill="#d9386a" stroke="#111" stroke-width="0.85"/>
<polygon points="613.89,132.00 614.36,133.05 615.51,133.17 614.65,133.95 614.89,135.08 613.89,134.50 612.89,135.08 613.13,133.95 612.27,133.17 613.42,133.05" fill="#111" stroke="none" stroke-width="0"/>
<polygon points="617.59,132.00 618.06,133.05 619.21,133.17 618.35,133.95 618.59,135.08 617.59,134.50 616.59,135.08 616.83,133.95 615.97,133.17 617.12,133.05" fill="#111" stroke="none" stroke-width="0"/>
<polygon points="621.29,132.00 621.76,133.05 622.91,133.17 622.05,133.95 622.29,135.08 621.29,134.50 620.29,135.08 620.53,133.95 619.67,133.17 620.82,133.05" fill="#111" stroke="none" stroke-width="0"/>
<line x1="632.02" y1="140.30" x2="632.02" y2="143.80" stroke="#333" stroke-width="0.8"/>
<line x1="632.02" y1="146.80" x2="632.02" y2="147.10" stroke="#333" stroke-width="0.8"/>
<rect x="624.92" y="143.80" width="14.20" height="3.00" fill="#8c8a0a" stroke="#333" stroke-width="0.8"/>
<line x1="624.92" y1="145.00" x2="639.12" y2="145.00" stroke="#222" stroke-width="1.1"/>
<circle cx="632.02" cy="140.30" r="2.0" fill="#8c8a0a" stroke="#111" stroke-width="0.85"/>
<circle cx="629.82" cy="147.10" r="2.0" fill="#8c8a0a" stroke="#111" stroke-width="0.85"/>
<circle cx="634.22" cy="147.10" r="2.0" fill="#8c8a0a" stroke="#111" stroke-width="0.85"/>
<polygon points="630.17,132.00 630.64,133.05 631.79,133.17 630.93,133.95 631.17,135.08 630.17,134.50 629.17,135.08 629.41,133.95 628.55,133.17 629.70,133.05" fill="#111" stroke="none" stroke-width="0"/>
<polygon points="633.87,132.00 634.34,133.05 635.49,133.17 634.63,133.95 634.87,135.08 633.87,134.50 632.87,135.08 633.11,133.95 632.25,133.17 633.40,133.05" fill="#111" stroke="none" stroke-width="0"/>
<line x1="646.45" y1="138.00" x2="646.45" y2="142.80" stroke="#333" stroke-width="0.8"/>
<rect x="639.35" y="142.80" width="14.20" height="4.00" fill="#fa8e74" stroke="#333" stroke-width="0.8"/>
<line x1="639.35" y1="144.50" x2="653.55" y2="144.50" stroke="#222" stroke-width="1.1"/>
<circle cx="646.45" cy="138.00" r="2.0" fill="#fa8e74" stroke="#111" stroke-width="0.85"/>
<circle cx="644.25" cy="146.80" r="2.0" fill="#fa8e74" stroke="#111" stroke-width="0.85"/>
<circle cx="648.65" cy="146.80" r="2.0" fill="#fa8e74" stroke="#111" stroke-width="0.85"/>
<polygon points="644.60,132.00 645.07,133.05 646.22,133.17 645.36,133.95 645.60,135.08 644.60,134.50 643.60,135.08 643.84,133.95 642.98,133.17 644.13,133.05" fill="#111" stroke="none" stroke-width="0"/>
<polygon points="648.30,132.00 648.77,133.05 649.92,133.17 649.06,133.95 649.30,135.08 648.30,134.50 647.30,135.08 647.54,133.95 646.68,133.17 647.83,133.05" fill="#111" stroke="none" stroke-width="0"/>
<line x1="660.88" y1="138.90" x2="660.88" y2="142.40" stroke="#333" stroke-width="0.8"/>
<line x1="660.88" y1="146.80" x2="660.88" y2="150.00" stroke="#333" stroke-width="0.8"/>
<rect x="653.78" y="142.40" width="14.20" height="4.40" fill="#158a85" stroke="#333" stroke-width="0.8"/>
<line x1="653.78" y1="145.00" x2="667.98" y2="145.00" stroke="#222" stroke-width="1.1"/>
<circle cx="660.88" cy="138.90" r="2.0" fill="#158a85" stroke="#111" stroke-width="0.85"/>
<circle cx="660.88" cy="145.00" r="2.0" fill="#158a85" stroke="#111" stroke-width="0.85"/>
<circle cx="660.88" cy="150.00" r="2.0" fill="#158a85" stroke="#111" stroke-width="0.85"/>
<polygon points="659.03,132.00 659.50,133.05 660.65,133.17 659.79,133.95 660.03,135.08 659.03,134.50 658.03,135.08 658.27,133.95 657.41,133.17 658.56,133.05" fill="#111" stroke="none" stroke-width="0"/>
<polygon points="662.73,132.00 663.20,133.05 664.35,133.17 663.49,133.95 663.73,135.08 662.73,134.50 661.73,135.08 661.97,133.95 661.11,133.17 662.26,133.05" fill="#111" stroke="none" stroke-width="0"/>
<line x1="675.31" y1="141.50" x2="675.31" y2="145.00" stroke="#333" stroke-width="0.8"/>
<line x1="675.31" y1="150.00" x2="675.31" y2="152.40" stroke="#333" stroke-width="0.8"/>
<rect x="668.21" y="145.00" width="14.20" height="5.00" fill="#0a0af0" stroke="#333" stroke-width="0.8"/>
<line x1="668.21" y1="147.30" x2="682.41" y2="147.30" stroke="#222" stroke-width="1.1"/>
<circle cx="675.31" cy="141.50" r="2.0" fill="#0a0af0" stroke="#111" stroke-width="0.85"/>
<circle cx="675.31" cy="147.30" r="2.0" fill="#0a0af0" stroke="#111" stroke-width="0.85"/>
<circle cx="675.31" cy="152.40" r="2.0" fill="#0a0af0" stroke="#111" stroke-width="0.85"/>
<polygon points="671.61,132.00 672.08,133.05 673.23,133.17 672.37,133.95 672.61,135.08 671.61,134.50 670.61,135.08 670.85,133.95 669.99,133.17 671.14,133.05" fill="#111" stroke="none" stroke-width="0"/>
<polygon points="675.31,132.00 675.78,133.05 676.93,133.17 676.07,133.95 676.31,135.08 675.31,134.50 674.31,135.08 674.55,133.95 673.69,133.17 674.84,133.05" fill="#111" stroke="none" stroke-width="0"/>
<polygon points="679.01,132.00 679.48,133.05 680.63,133.17 679.77,133.95 680.01,135.08 679.01,134.50 678.01,135.08 678.25,133.95 677.39,133.17 678.54,133.05" fill="#111" stroke="none" stroke-width="0"/>
<rect x="385.00" y="40.50" width="174.00" height="125.10" fill="none" stroke="#111" stroke-width="1.6"/>
<rect x="565.30" y="40.50" width="118.30" height="125.10" fill="none" stroke="#111" stroke-width="1.6"/>
<text x="422.20" y="178.00" font-size="9.2" text-anchor="middle" stroke="#000" stroke-width="0.18">A</text>
<text x="436.50" y="178.00" font-size="9.2" text-anchor="middle" stroke="#000" stroke-width="0.18">B</text>
<text x="450.80" y="178.00" font-size="9.2" text-anchor="middle" stroke="#000" stroke-width="0.18">C</text>
<text x="465.10" y="178.00" font-size="9.2" text-anchor="middle" stroke="#000" stroke-width="0.18">D</text>
<text x="479.40" y="178.00" font-size="9.2" text-anchor="middle" stroke="#000" stroke-width="0.18">E</text>
<text x="493.70" y="178.00" font-size="9.2" text-anchor="middle" stroke="#000" stroke-width="0.18">F</text>
<text x="508.00" y="178.00" font-size="9.2" text-anchor="middle" stroke="#000" stroke-width="0.18">G</text>
<text x="522.30" y="178.00" font-size="9.2" text-anchor="middle" stroke="#000" stroke-width="0.18">H</text>
<text x="536.60" y="178.00" font-size="9.2" text-anchor="middle" stroke="#000" stroke-width="0.18">I</text>
<text x="550.90" y="178.00" font-size="9.2" text-anchor="middle" stroke="#000" stroke-width="0.18">J</text>
<text x="603.16" y="178.00" font-size="9.2" text-anchor="middle" stroke="#000" stroke-width="0.18">K</text>
<text x="617.59" y="178.00" font-size="9.2" text-anchor="middle" stroke="#000" stroke-width="0.18">L</text>
<text x="632.02" y="178.00" font-size="9.2" text-anchor="middle" stroke="#000" stroke-width="0.18">M</text>
<text x="646.45" y="178.00" font-size="9.2" text-anchor="middle" stroke="#000" stroke-width="0.18">N</text>
<text x="660.88" y="178.00" font-size="9.2" text-anchor="middle" stroke="#000" stroke-width="0.18">O</text>
<text x="675.31" y="178.00" font-size="9.2" text-anchor="middle" stroke="#000" stroke-width="0.18">P</text>
<text x="394.60" y="174.30" font-size="8.1" text-anchor="end" stroke="#000" stroke-width="0.18" transform="rotate(-45 394.6 174.3)">pOXA-48_1</text>
<text x="409.60" y="177.10" font-size="8.1" text-anchor="end" stroke="#000" stroke-width="0.18" transform="rotate(-45 409.6 177.1)">Plasmid free</text>
<text x="577.70" y="174.00" font-size="8.1" text-anchor="end" stroke="#000" stroke-width="0.18" transform="rotate(-45 577.6999999999999 174.0)">pOXA-48_1</text>
<text x="592.73" y="176.60" font-size="8.1" text-anchor="end" stroke="#000" stroke-width="0.18" transform="rotate(-45 592.7299999999999 176.6)">Plasmid free</text>
<text x="-0.50" y="227.30" font-size="11" font-weight="bold" stroke="#000" stroke-width="0.12">c</text>
<rect x="31.70" y="219.40" width="86.60" height="22.80" fill="#fff" stroke="#444" stroke-width="0.8"/>
<text x="75.00" y="234.10" font-size="9.2" text-anchor="middle" stroke="#000" stroke-width="0.18">ST38_1 B</text>
<line x1="51.10" y1="259.70" x2="51.10" y2="261.30" stroke="#333" stroke-width="0.8"/>
<rect x="40.30" y="256.80" width="21.60" height="2.90" fill="#a5a5a5" stroke="#333" stroke-width="0.8"/>
<line x1="40.30" y1="258.30" x2="61.90" y2="258.30" stroke="#222" stroke-width="1.1"/>
<circle cx="51.10" cy="257.20" r="1.3" fill="#a5a5a5" stroke="#111" stroke-width="0.85"/>
<circle cx="51.10" cy="258.30" r="1.3" fill="#a5a5a5" stroke="#111" stroke-width="0.85"/>
<circle cx="51.10" cy="261.30" r="1.3" fill="#a5a5a5" stroke="#111" stroke-width="0.85"/>
<line x1="75.00" y1="249.50" x2="75.00" y2="253.40" stroke="#333" stroke-width="0.8"/>
<line x1="75.00" y1="257.80" x2="75.00" y2="259.70" stroke="#333" stroke-width="0.8"/>
<rect x="64.20" y="253.40" width="21.60" height="4.40" fill="#4472c4" stroke="#333" stroke-width="0.8"/>
<line x1="64.20" y1="255.00" x2="85.80" y2="255.00" stroke="#222" stroke-width="1.1"/>
<circle cx="75.00" cy="249.50" r="1.3" fill="#4472c4" stroke="#111" stroke-width="0.85"/>
<circle cx="75.00" cy="254.80" r="1.3" fill="#4472c4" stroke="#111" stroke-width="0.85"/>
<circle cx="75.00" cy="259.70" r="1.3" fill="#4472c4" stroke="#111" stroke-width="0.85"/>
<line x1="98.90" y1="253.00" x2="98.90" y2="256.20" stroke="#333" stroke-width="0.8"/>
<line x1="98.90" y1="262.30" x2="98.90" y2="265.60" stroke="#333" stroke-width="0.8"/>
<rect x="88.10" y="256.20" width="21.60" height="6.10" fill="#e8771f" stroke="#333" stroke-width="0.8"/>
<line x1="88.10" y1="259.30" x2="109.70" y2="259.30" stroke="#222" stroke-width="1.1"/>
<circle cx="98.90" cy="253.00" r="1.3" fill="#e8771f" stroke="#111" stroke-width="0.85"/>
<circle cx="98.90" cy="259.30" r="1.3" fill="#e8771f" stroke="#111" stroke-width="0.85"/>
<circle cx="98.90" cy="265.60" r="1.3" fill="#e8771f" stroke="#111" stroke-width="0.85"/>
<rect x="31.70" y="242.20" width="86.60" height="68.80" fill="none" stroke="#111" stroke-width="1.5"/>
<rect x="121.70" y="219.40" width="86.50" height="22.80" fill="#fff" stroke="#444" stroke-width="0.8"/>
<text x="165.00" y="234.10" font-size="9.2" text-anchor="middle" stroke="#000" stroke-width="0.18">ST38_1 A</text>
<line x1="141.10" y1="253.90" x2="141.10" y2="256.00" stroke="#333" stroke-width="0.8"/>
<line x1="141.10" y1="261.60" x2="141.10" y2="264.80" stroke="#333" stroke-width="0.8"/>
<rect x="130.30" y="256.00" width="21.60" height="5.60" fill="#a5a5a5" stroke="#333" stroke-width="0.8"/>
<line x1="130.30" y1="258.70" x2="151.90" y2="258.70" stroke="#222" stroke-width="1.1"/>
<circle cx="141.10" cy="253.90" r="1.3" fill="#a5a5a5" stroke="#111" stroke-width="0.85"/>
<circle cx="141.10" cy="257.00" r="1.3" fill="#a5a5a5" stroke="#111" stroke-width="0.85"/>
<circle cx="141.10" cy="264.80" r="1.3" fill="#a5a5a5" stroke="#111" stroke-width="0.85"/>
<line x1="165.00" y1="258.50" x2="165.00" y2="259.40" stroke="#333" stroke-width="0.8"/>
<rect x="154.20" y="259.40" width="21.60" height="2.20" fill="#4472c4" stroke="#333" stroke-width="0.8"/>
<line x1="154.20" y1="260.50" x2="175.80" y2="260.50" stroke="#222" stroke-width="1.1"/>
<circle cx="165.00" cy="258.50" r="1.3" fill="#4472c4" stroke="#111" stroke-width="0.85"/>
<circle cx="163.80" cy="260.50" r="1.3" fill="#4472c4" stroke="#111" stroke-width="0.85"/>
<circle cx="166.20" cy="260.50" r="1.3" fill="#4472c4" stroke="#111" stroke-width="0.85"/>
<line x1="188.90" y1="263.60" x2="188.90" y2="264.50" stroke="#333" stroke-width="0.8"/>
<rect x="178.10" y="261.60" width="21.60" height="2.00" fill="#e8771f" stroke="#333" stroke-width="0.8"/>
<line x1="178.10" y1="262.50" x2="199.70" y2="262.50" stroke="#222" stroke-width="1.1"/>
<circle cx="187.70" cy="261.50" r="1.3" fill="#e8771f" stroke="#111" stroke-width="0.85"/>
<circle cx="190.10" cy="261.50" r="1.3" fill="#e8771f" stroke="#111" stroke-width="0.85"/>
<circle cx="188.90" cy="264.50" r="1.3" fill="#e8771f" stroke="#111" stroke-width="0.85"/>
<rect x="121.70" y="242.20" width="86.50" height="68.80" fill="none" stroke="#111" stroke-width="1.5"/>
<rect x="211.50" y="219.40" width="86.50" height="22.80" fill="#fff" stroke="#444" stroke-width="0.8"/>
<text x="254.80" y="234.10" font-size="9.2" text-anchor="middle" stroke="#000" stroke-width="0.18">ST38_1 J</text>
<rect x="220.10" y="256.00" width="21.60" height="1.80" fill="#a5a5a5" stroke="#3a3a3a" stroke-width="0.75"/>
<line x1="220.10" y1="256.90" x2="241.70" y2="256.90" stroke="#333" stroke-width="0.6"/>
<circle cx="228.50" cy="256.90" r="1.3" fill="#a5a5a5" stroke="#111" stroke-width="0.85"/>
<circle cx="230.90" cy="256.90" r="1.3" fill="#a5a5a5" stroke="#111" stroke-width="0.85"/>
<circle cx="233.30" cy="256.90" r="1.3" fill="#a5a5a5" stroke="#111" stroke-width="0.85"/>
<rect x="244.00" y="262.70" width="21.60" height="1.80" fill="#4472c4" stroke="#3a3a3a" stroke-width="0.75"/>
<line x1="244.00" y1="263.60" x2="265.60" y2="263.60" stroke="#333" stroke-width="0.6"/>
<circle cx="254.80" cy="262.20" r="1.3" fill="#4472c4" stroke="#111" stroke-width="0.85"/>
<circle cx="253.60" cy="264.00" r="1.3" fill="#4472c4" stroke="#111" stroke-width="0.85"/>
<circle cx="256.00" cy="264.00" r="1.3" fill="#4472c4" stroke="#111" stroke-width="0.85"/>
<line x1="278.70" y1="284.60" x2="278.70" y2="290.50" stroke="#333" stroke-width="0.8"/>
<rect x="267.90" y="278.20" width="21.60" height="6.40" fill="#e8771f" stroke="#333" stroke-width="0.8"/>
<line x1="267.90" y1="278.60" x2="289.50" y2="278.60" stroke="#222" stroke-width="1.1"/>
<circle cx="277.50" cy="278.30" r="1.3" fill="#e8771f" stroke="#111" stroke-width="0.85"/>
<circle cx="279.90" cy="278.30" r="1.3" fill="#e8771f" stroke="#111" stroke-width="0.85"/>
<circle cx="278.70" cy="290.50" r="1.3" fill="#e8771f" stroke="#111" stroke-width="0.85"/>
<rect x="211.50" y="242.20" width="86.50" height="68.80" fill="none" stroke="#111" stroke-width="1.5"/>
<line x1="28.70" y1="311.00" x2="31.70" y2="311.00" stroke="#222" stroke-width="1.1"/>
<text x="26.40" y="314.10" font-size="8.6" text-anchor="end" stroke="#000" stroke-width="0.18">0</text>
<line x1="28.70" y1="300.45" x2="31.70" y2="300.45" stroke="#222" stroke-width="1.1"/>
<text x="26.40" y="303.55" font-size="8.6" text-anchor="end" stroke="#000" stroke-width="0.18">20</text>
<line x1="28.70" y1="289.90" x2="31.70" y2="289.90" stroke="#222" stroke-width="1.1"/>
<text x="26.40" y="293.00" font-size="8.6" text-anchor="end" stroke="#000" stroke-width="0.18">40</text>
<line x1="28.70" y1="279.35" x2="31.70" y2="279.35" stroke="#222" stroke-width="1.1"/>
<text x="26.40" y="282.45" font-size="8.6" text-anchor="end" stroke="#000" stroke-width="0.18">60</text>
<line x1="28.70" y1="268.80" x2="31.70" y2="268.80" stroke="#222" stroke-width="1.1"/>
<text x="26.40" y="271.90" font-size="8.6" text-anchor="end" stroke="#000" stroke-width="0.18">80</text>
<line x1="28.70" y1="258.25" x2="31.70" y2="258.25" stroke="#222" stroke-width="1.1"/>
<text x="26.40" y="261.35" font-size="8.6" text-anchor="end" stroke="#000" stroke-width="0.18">100</text>
<line x1="28.70" y1="247.70" x2="31.70" y2="247.70" stroke="#222" stroke-width="1.1"/>
<text x="26.40" y="250.80" font-size="8.6" text-anchor="end" stroke="#000" stroke-width="0.18">120</text>
<rect x="31.70" y="317.40" width="86.60" height="22.70" fill="#fff" stroke="#444" stroke-width="0.8"/>
<text x="75.00" y="332.10" font-size="9.2" text-anchor="middle" stroke="#000" stroke-width="0.18">ST38_2 L</text>
<rect x="40.30" y="354.40" width="21.60" height="1.80" fill="#a5a5a5" stroke="#3a3a3a" stroke-width="0.75"/>
<line x1="40.30" y1="355.30" x2="61.90" y2="355.30" stroke="#333" stroke-width="0.6"/>
<circle cx="51.10" cy="354.80" r="1.3" fill="#a5a5a5" stroke="#111" stroke-width="0.85"/>
<line x1="75.00" y1="354.60" x2="75.00" y2="356.40" stroke="#333" stroke-width="0.8"/>
<line x1="75.00" y1="359.70" x2="75.00" y2="361.50" stroke="#333" stroke-width="0.8"/>
<rect x="64.20" y="356.40" width="21.60" height="3.30" fill="#4472c4" stroke="#333" stroke-width="0.8"/>
<line x1="64.20" y1="358.00" x2="85.80" y2="358.00" stroke="#222" stroke-width="1.1"/>
<circle cx="75.00" cy="354.60" r="1.3" fill="#4472c4" stroke="#111" stroke-width="0.85"/>
<circle cx="75.00" cy="358.00" r="1.3" fill="#4472c4" stroke="#111" stroke-width="0.85"/>
<circle cx="75.00" cy="361.50" r="1.3" fill="#4472c4" stroke="#111" stroke-width="0.85"/>
<rect x="88.10" y="354.90" width="21.60" height="1.80" fill="#e8771f" stroke="#3a3a3a" stroke-width="0.75"/>
<line x1="88.10" y1="355.80" x2="109.70" y2="355.80" stroke="#333" stroke-width="0.6"/>
<circle cx="96.50" cy="355.80" r="1.3" fill="#e8771f" stroke="#111" stroke-width="0.85"/>
<circle cx="98.90" cy="355.80" r="1.3" fill="#e8771f" stroke="#111" stroke-width="0.85"/>
<circle cx="101.30" cy="355.80" r="1.3" fill="#e8771f" stroke="#111" stroke-width="0.85"/>
<rect x="31.70" y="340.10" width="86.60" height="68.80" fill="none" stroke="#111" stroke-width="1.5"/>
<line x1="75.00" y1="408.90" x2="75.00" y2="412.10" stroke="#222" stroke-width="1.1"/>
<text x="72.50" y="423.70" font-size="9.2" text-anchor="middle" stroke="#000" stroke-width="0.18">pOXA-48_1</text>
<rect x="121.70" y="317.40" width="86.50" height="22.70" fill="#fff" stroke="#444" stroke-width="0.8"/>
<text x="165.00" y="332.10" font-size="9.2" text-anchor="middle" stroke="#000" stroke-width="0.18">ST38_2 O</text>
<rect x="130.30" y="355.00" width="21.60" height="1.80" fill="#a5a5a5" stroke="#3a3a3a" stroke-width="0.75"/>
<line x1="130.30" y1="355.90" x2="151.90" y2="355.90" stroke="#333" stroke-width="0.6"/>
<circle cx="141.10" cy="355.60" r="1.3" fill="#a5a5a5" stroke="#111" stroke-width="0.85"/>
<line x1="165.00" y1="351.80" x2="165.00" y2="356.80" stroke="#333" stroke-width="0.8"/>
<rect x="154.20" y="356.80" width="21.60" height="5.00" fill="#4472c4" stroke="#333" stroke-width="0.8"/>
<line x1="154.20" y1="358.00" x2="175.80" y2="358.00" stroke="#222" stroke-width="1.1"/>
<circle cx="165.00" cy="351.80" r="1.3" fill="#4472c4" stroke="#111" stroke-width="0.85"/>
<circle cx="163.80" cy="361.80" r="1.3" fill="#4472c4" stroke="#111" stroke-width="0.85"/>
<circle cx="166.20" cy="361.80" r="1.3" fill="#4472c4" stroke="#111" stroke-width="0.85"/>
<line x1="188.90" y1="358.60" x2="188.90" y2="361.00" stroke="#333" stroke-width="0.8"/>
<rect x="178.10" y="357.20" width="21.60" height="1.80" fill="#e8771f" stroke="#3a3a3a" stroke-width="0.75"/>
<line x1="178.10" y1="358.10" x2="199.70" y2="358.10" stroke="#333" stroke-width="0.6"/>
<circle cx="187.70" cy="357.50" r="1.3" fill="#e8771f" stroke="#111" stroke-width="0.85"/>
<circle cx="190.10" cy="357.50" r="1.3" fill="#e8771f" stroke="#111" stroke-width="0.85"/>
<circle cx="188.90" cy="361.00" r="1.3" fill="#e8771f" stroke="#111" stroke-width="0.85"/>
<rect x="121.70" y="340.10" width="86.50" height="68.80" fill="none" stroke="#111" stroke-width="1.5"/>
<line x1="165.00" y1="408.90" x2="165.00" y2="412.10" stroke="#222" stroke-width="1.1"/>
<text x="163.80" y="423.70" font-size="9.2" text-anchor="middle" stroke="#000" stroke-width="0.18">pOXA-48_1</text>
<rect x="211.50" y="317.40" width="86.50" height="22.70" fill="#fff" stroke="#444" stroke-width="0.8"/>
<text x="254.80" y="332.10" font-size="9.2" text-anchor="middle" stroke="#000" stroke-width="0.18">ST38_2 P</text>
<rect x="220.10" y="354.60" width="21.60" height="1.80" fill="#a5a5a5" stroke="#3a3a3a" stroke-width="0.75"/>
<line x1="220.10" y1="355.50" x2="241.70" y2="355.50" stroke="#333" stroke-width="0.6"/>
<circle cx="228.50" cy="355.50" r="1.3" fill="#a5a5a5" stroke="#111" stroke-width="0.85"/>
<circle cx="230.90" cy="355.50" r="1.3" fill="#a5a5a5" stroke="#111" stroke-width="0.85"/>
<circle cx="233.30" cy="355.50" r="1.3" fill="#a5a5a5" stroke="#111" stroke-width="0.85"/>
<line x1="254.80" y1="353.90" x2="254.80" y2="355.20" stroke="#333" stroke-width="0.8"/>
<rect x="244.00" y="355.20" width="21.60" height="2.30" fill="#4472c4" stroke="#333" stroke-width="0.8"/>
<line x1="244.00" y1="356.50" x2="265.60" y2="356.50" stroke="#222" stroke-width="1.1"/>
<circle cx="254.80" cy="353.90" r="1.3" fill="#4472c4" stroke="#111" stroke-width="0.85"/>
<circle cx="253.60" cy="356.50" r="1.3" fill="#4472c4" stroke="#111" stroke-width="0.85"/>
<circle cx="256.00" cy="356.50" r="1.3" fill="#4472c4" stroke="#111" stroke-width="0.85"/>
<line x1="278.70" y1="353.50" x2="278.70" y2="355.30" stroke="#333" stroke-width="0.8"/>
<rect x="267.90" y="350.90" width="21.60" height="2.60" fill="#e8771f" stroke="#333" stroke-width="0.8"/>
<line x1="267.90" y1="351.50" x2="289.50" y2="351.50" stroke="#222" stroke-width="1.1"/>
<circle cx="277.50" cy="350.90" r="1.3" fill="#e8771f" stroke="#111" stroke-width="0.85"/>
<circle cx="279.90" cy="350.90" r="1.3" fill="#e8771f" stroke="#111" stroke-width="0.85"/>
<circle cx="278.70" cy="355.30" r="1.3" fill="#e8771f" stroke="#111" stroke-width="0.85"/>
<rect x="211.50" y="340.10" width="86.50" height="68.80" fill="none" stroke="#111" stroke-width="1.5"/>
<line x1="254.80" y1="408.90" x2="254.80" y2="412.10" stroke="#222" stroke-width="1.1"/>
<text x="255.50" y="423.70" font-size="9.2" text-anchor="middle" stroke="#000" stroke-width="0.18">pOXA-48_1</text>
<line x1="28.70" y1="408.90" x2="31.70" y2="408.90" stroke="#222" stroke-width="1.1"/>
<text x="26.40" y="412.00" font-size="8.6" text-anchor="end" stroke="#000" stroke-width="0.18">0</text>
<line x1="28.70" y1="398.35" x2="31.70" y2="398.35" stroke="#222" stroke-width="1.1"/>
<text x="26.40" y="401.45" font-size="8.6" text-anchor="end" stroke="#000" stroke-width="0.18">20</text>
<line x1="28.70" y1="387.80" x2="31.70" y2="387.80" stroke="#222" stroke-width="1.1"/>
<text x="26.40" y="390.90" font-size="8.6" text-anchor="end" stroke="#000" stroke-width="0.18">40</text>
<line x1="28.70" y1="377.25" x2="31.70" y2="377.25" stroke="#222" stroke-width="1.1"/>
<text x="26.40" y="380.35" font-size="8.6" text-anchor="end" stroke="#000" stroke-width="0.18">60</text>
<line x1="28.70" y1="366.70" x2="31.70" y2="366.70" stroke="#222" stroke-width="1.1"/>
<text x="26.40" y="369.80" font-size="8.6" text-anchor="end" stroke="#000" stroke-width="0.18">80</text>
<line x1="28.70" y1="356.15" x2="31.70" y2="356.15" stroke="#222" stroke-width="1.1"/>
<text x="26.40" y="359.25" font-size="8.6" text-anchor="end" stroke="#000" stroke-width="0.18">100</text>
<line x1="28.70" y1="345.60" x2="31.70" y2="345.60" stroke="#222" stroke-width="1.1"/>
<text x="26.40" y="348.70" font-size="8.6" text-anchor="end" stroke="#000" stroke-width="0.18">120</text>
<text x="6.60" y="326.50" font-size="9.45" font-weight="bold" text-anchor="middle" stroke="#000" stroke-width="0.12" transform="rotate(-90 6.6 326.5)">Plasmid-carrying colonies (%)</text>
<text x="303.00" y="299.30" font-size="9.1" font-weight="bold" stroke="#000" stroke-width="0.12">Days</text>
<line x1="308.95" y1="304.70" x2="308.95" y2="318.90" stroke="#222" stroke-width="1.0"/>
<rect x="302.20" y="307.30" width="13.50" height="9.00" fill="#a5a5a5" stroke="#555" stroke-width="0.9"/>
<line x1="302.20" y1="311.80" x2="315.70" y2="311.80" stroke="#222" stroke-width="1.1"/>
<circle cx="308.95" cy="311.80" r="3.0" fill="#a5a5a5" stroke="#111" stroke-width="1.0"/>
<text x="319.20" y="315.10" font-size="9.2" stroke="#000" stroke-width="0.18">D0</text>
<line x1="308.95" y1="321.40" x2="308.95" y2="335.60" stroke="#222" stroke-width="1.0"/>
<rect x="302.20" y="324.00" width="13.50" height="9.00" fill="#4472c4" stroke="#555" stroke-width="0.9"/>
<line x1="302.20" y1="328.50" x2="315.70" y2="328.50" stroke="#222" stroke-width="1.1"/>
<circle cx="308.95" cy="328.50" r="3.0" fill="#4472c4" stroke="#111" stroke-width="1.0"/>
<text x="319.20" y="331.80" font-size="9.2" stroke="#000" stroke-width="0.18">D5</text>
<line x1="308.95" y1="338.40" x2="308.95" y2="352.60" stroke="#222" stroke-width="1.0"/>
<rect x="302.20" y="341.00" width="13.50" height="9.00" fill="#e8771f" stroke="#555" stroke-width="0.9"/>
<line x1="302.20" y1="345.50" x2="315.70" y2="345.50" stroke="#222" stroke-width="1.1"/>
<circle cx="308.95" cy="345.50" r="3.0" fill="#e8771f" stroke="#111" stroke-width="1.0"/>
<text x="319.20" y="348.80" font-size="9.2" stroke="#000" stroke-width="0.18">D10</text>
<text x="345.30" y="229.00" font-size="11" font-weight="bold" stroke="#000" stroke-width="0.12">d</text>
<rect x="375.80" y="218.50" width="132.70" height="28.20" fill="#fff" stroke="#444" stroke-width="0.8"/>
<text x="443.15" y="230.30" font-size="9.2" text-anchor="middle" stroke="#000" stroke-width="0.18">ST38_1</text>
<text x="443.15" y="241.90" font-size="9.2" text-anchor="middle" stroke="#000" stroke-width="0.18">ΔF3141-F3140</text>
<line x1="386.90" y1="269.30" x2="386.90" y2="277.30" stroke="#333" stroke-width="0.8"/>
<line x1="386.90" y1="291.10" x2="386.90" y2="296.90" stroke="#333" stroke-width="0.8"/>
<rect x="380.30" y="277.30" width="13.20" height="13.80" fill="#a5a5a5" stroke="#333" stroke-width="0.8"/>
<line x1="380.30" y1="285.00" x2="393.50" y2="285.00" stroke="#222" stroke-width="1.1"/>
<circle cx="386.90" cy="269.30" r="2.3" fill="#a5a5a5" stroke="#111" stroke-width="0.85"/>
<circle cx="386.90" cy="285.00" r="2.3" fill="#a5a5a5" stroke="#111" stroke-width="0.85"/>
<circle cx="386.90" cy="296.90" r="2.3" fill="#a5a5a5" stroke="#111" stroke-width="0.85"/>
<line x1="400.70" y1="291.00" x2="400.70" y2="295.10" stroke="#333" stroke-width="0.8"/>
<rect x="394.10" y="285.20" width="13.20" height="5.80" fill="#4472c4" stroke="#333" stroke-width="0.8"/>
<line x1="394.10" y1="285.60" x2="407.30" y2="285.60" stroke="#222" stroke-width="1.1"/>
<circle cx="398.20" cy="285.50" r="2.3" fill="#4472c4" stroke="#111" stroke-width="0.85"/>
<circle cx="403.20" cy="285.50" r="2.3" fill="#4472c4" stroke="#111" stroke-width="0.85"/>
<circle cx="400.70" cy="295.10" r="2.3" fill="#4472c4" stroke="#111" stroke-width="0.85"/>
<rect x="407.90" y="335.00" width="13.20" height="2.00" fill="#e8771f" stroke="#333" stroke-width="0.8"/>
<line x1="407.90" y1="336.00" x2="421.10" y2="336.00" stroke="#222" stroke-width="1.1"/>
<circle cx="414.50" cy="333.50" r="2.3" fill="#e8771f" stroke="#111" stroke-width="0.85"/>
<circle cx="412.00" cy="338.60" r="2.3" fill="#e8771f" stroke="#111" stroke-width="0.85"/>
<circle cx="417.00" cy="338.60" r="2.3" fill="#e8771f" stroke="#111" stroke-width="0.85"/>
<line x1="428.50" y1="276.40" x2="428.50" y2="279.30" stroke="#333" stroke-width="0.8"/>
<rect x="421.90" y="279.30" width="13.20" height="4.30" fill="#a5a5a5" stroke="#333" stroke-width="0.8"/>
<line x1="421.90" y1="282.00" x2="435.10" y2="282.00" stroke="#222" stroke-width="1.1"/>
<circle cx="428.50" cy="276.40" r="2.3" fill="#a5a5a5" stroke="#111" stroke-width="0.85"/>
<circle cx="426.00" cy="283.60" r="2.3" fill="#a5a5a5" stroke="#111" stroke-width="0.85"/>
<circle cx="431.00" cy="283.60" r="2.3" fill="#a5a5a5" stroke="#111" stroke-width="0.85"/>
<line x1="442.30" y1="278.70" x2="442.30" y2="284.00" stroke="#333" stroke-width="0.8"/>
<line x1="442.30" y1="293.90" x2="442.30" y2="298.00" stroke="#333" stroke-width="0.8"/>
<rect x="435.70" y="284.00" width="13.20" height="9.90" fill="#4472c4" stroke="#333" stroke-width="0.8"/>
<line x1="435.70" y1="289.60" x2="448.90" y2="289.60" stroke="#222" stroke-width="1.1"/>
<circle cx="442.30" cy="278.70" r="2.3" fill="#4472c4" stroke="#111" stroke-width="0.85"/>
<circle cx="442.30" cy="289.60" r="2.3" fill="#4472c4" stroke="#111" stroke-width="0.85"/>
<circle cx="442.30" cy="298.00" r="2.3" fill="#4472c4" stroke="#111" stroke-width="0.85"/>
<line x1="456.10" y1="328.00" x2="456.10" y2="336.50" stroke="#333" stroke-width="0.8"/>
<line x1="456.10" y1="360.50" x2="456.10" y2="375.90" stroke="#333" stroke-width="0.8"/>
<rect x="449.50" y="336.50" width="13.20" height="24.00" fill="#e8771f" stroke="#333" stroke-width="0.8"/>
<line x1="449.50" y1="345.70" x2="462.70" y2="345.70" stroke="#222" stroke-width="1.1"/>
<circle cx="456.10" cy="328.00" r="2.3" fill="#e8771f" stroke="#111" stroke-width="0.85"/>
<circle cx="456.10" cy="345.70" r="2.3" fill="#e8771f" stroke="#111" stroke-width="0.85"/>
<circle cx="456.10" cy="375.90" r="2.3" fill="#e8771f" stroke="#111" stroke-width="0.85"/>
<line x1="469.80" y1="279.70" x2="469.80" y2="284.00" stroke="#333" stroke-width="0.8"/>
<line x1="469.80" y1="290.00" x2="469.80" y2="294.90" stroke="#333" stroke-width="0.8"/>
<rect x="463.20" y="284.00" width="13.20" height="6.00" fill="#a5a5a5" stroke="#333" stroke-width="0.8"/>
<line x1="463.20" y1="287.00" x2="476.40" y2="287.00" stroke="#222" stroke-width="1.1"/>
<circle cx="469.80" cy="279.70" r="2.3" fill="#a5a5a5" stroke="#111" stroke-width="0.85"/>
<circle cx="469.80" cy="287.00" r="2.3" fill="#a5a5a5" stroke="#111" stroke-width="0.85"/>
<circle cx="469.80" cy="294.90" r="2.3" fill="#a5a5a5" stroke="#111" stroke-width="0.85"/>
<rect x="477.00" y="287.10" width="13.20" height="1.80" fill="#4472c4" stroke="#3a3a3a" stroke-width="0.75"/>
<line x1="477.00" y1="288.00" x2="490.20" y2="288.00" stroke="#333" stroke-width="0.6"/>
<circle cx="479.20" cy="288.00" r="2.3" fill="#4472c4" stroke="#111" stroke-width="0.85"/>
<circle cx="483.60" cy="288.00" r="2.3" fill="#4472c4" stroke="#111" stroke-width="0.85"/>
<circle cx="488.00" cy="288.00" r="2.3" fill="#4472c4" stroke="#111" stroke-width="0.85"/>
<line x1="497.40" y1="318.70" x2="497.40" y2="324.40" stroke="#333" stroke-width="0.8"/>
<rect x="490.80" y="324.40" width="13.20" height="7.60" fill="#e8771f" stroke="#333" stroke-width="0.8"/>
<line x1="490.80" y1="329.00" x2="504.00" y2="329.00" stroke="#222" stroke-width="1.1"/>
<circle cx="497.40" cy="318.70" r="2.3" fill="#e8771f" stroke="#111" stroke-width="0.85"/>
<circle cx="494.90" cy="332.00" r="2.3" fill="#e8771f" stroke="#111" stroke-width="0.85"/>
<circle cx="499.90" cy="332.00" r="2.3" fill="#e8771f" stroke="#111" stroke-width="0.85"/>
<rect x="375.80" y="246.70" width="132.70" height="167.10" fill="none" stroke="#111" stroke-width="1.5"/>
<line x1="400.70" y1="413.80" x2="400.70" y2="416.80" stroke="#222" stroke-width="1.1"/>
<text x="404.10" y="426.90" font-size="9.4" text-anchor="end" stroke="#000" stroke-width="0.18" transform="rotate(-45 404.1 426.9)">pOXA-48_1</text>
<line x1="442.30" y1="413.80" x2="442.30" y2="416.80" stroke="#222" stroke-width="1.1"/>
<text x="446.00" y="426.90" font-size="9.4" text-anchor="end" stroke="#000" stroke-width="0.18" transform="rotate(-45 446.0 426.9)">pOXA-48_2</text>
<line x1="483.60" y1="413.80" x2="483.60" y2="416.80" stroke="#222" stroke-width="1.1"/>
<text x="487.90" y="426.90" font-size="9.4" text-anchor="end" stroke="#000" stroke-width="0.18" transform="rotate(-45 487.9 426.9)">pOXA-48_3</text>
<rect x="513.70" y="218.50" width="133.60" height="28.20" fill="#fff" stroke="#444" stroke-width="0.8"/>
<text x="581.50" y="230.30" font-size="9.2" text-anchor="middle" stroke="#000" stroke-width="0.18">ST38_3</text>
<text x="581.50" y="241.90" font-size="9.2" text-anchor="middle" stroke="#000" stroke-width="0.18">ΔF3141-F3140</text>
<line x1="525.40" y1="278.00" x2="525.40" y2="285.20" stroke="#333" stroke-width="0.8"/>
<rect x="518.80" y="268.00" width="13.20" height="10.00" fill="#a5a5a5" stroke="#333" stroke-width="0.8"/>
<line x1="518.80" y1="268.50" x2="532.00" y2="268.50" stroke="#222" stroke-width="1.1"/>
<circle cx="522.90" cy="268.00" r="2.3" fill="#a5a5a5" stroke="#111" stroke-width="0.85"/>
<circle cx="527.90" cy="268.00" r="2.3" fill="#a5a5a5" stroke="#111" stroke-width="0.85"/>
<circle cx="525.40" cy="285.20" r="2.3" fill="#a5a5a5" stroke="#111" stroke-width="0.85"/>
<line x1="539.20" y1="288.20" x2="539.20" y2="294.60" stroke="#333" stroke-width="0.8"/>
<rect x="532.60" y="280.20" width="13.20" height="8.00" fill="#4472c4" stroke="#333" stroke-width="0.8"/>
<line x1="532.60" y1="281.00" x2="545.80" y2="281.00" stroke="#222" stroke-width="1.1"/>
<circle cx="536.70" cy="280.00" r="2.3" fill="#4472c4" stroke="#111" stroke-width="0.85"/>
<circle cx="541.70" cy="280.00" r="2.3" fill="#4472c4" stroke="#111" stroke-width="0.85"/>
<circle cx="539.20" cy="294.60" r="2.3" fill="#4472c4" stroke="#111" stroke-width="0.85"/>
<line x1="553.00" y1="302.50" x2="553.00" y2="305.20" stroke="#333" stroke-width="0.8"/>
<rect x="546.40" y="297.40" width="13.20" height="5.10" fill="#e8771f" stroke="#333" stroke-width="0.8"/>
<line x1="546.40" y1="300.00" x2="559.60" y2="300.00" stroke="#222" stroke-width="1.1"/>
<circle cx="550.50" cy="297.50" r="2.3" fill="#e8771f" stroke="#111" stroke-width="0.85"/>
<circle cx="555.50" cy="297.50" r="2.3" fill="#e8771f" stroke="#111" stroke-width="0.85"/>
<circle cx="553.00" cy="305.20" r="2.3" fill="#e8771f" stroke="#111" stroke-width="0.85"/>
<line x1="567.00" y1="269.80" x2="567.00" y2="282.30" stroke="#333" stroke-width="0.8"/>
<rect x="560.40" y="282.30" width="13.20" height="13.10" fill="#a5a5a5" stroke="#333" stroke-width="0.8"/>
<line x1="560.40" y1="295.00" x2="573.60" y2="295.00" stroke="#222" stroke-width="1.1"/>
<circle cx="567.00" cy="269.80" r="2.3" fill="#a5a5a5" stroke="#111" stroke-width="0.85"/>
<circle cx="564.50" cy="296.60" r="2.3" fill="#a5a5a5" stroke="#111" stroke-width="0.85"/>
<circle cx="569.50" cy="296.60" r="2.3" fill="#a5a5a5" stroke="#111" stroke-width="0.85"/>
<rect x="574.20" y="290.40" width="13.20" height="1.80" fill="#4472c4" stroke="#3a3a3a" stroke-width="0.75"/>
<line x1="574.20" y1="291.30" x2="587.40" y2="291.30" stroke="#333" stroke-width="0.6"/>
<circle cx="576.40" cy="291.30" r="2.3" fill="#4472c4" stroke="#111" stroke-width="0.85"/>
<circle cx="580.80" cy="291.30" r="2.3" fill="#4472c4" stroke="#111" stroke-width="0.85"/>
<circle cx="585.20" cy="291.30" r="2.3" fill="#4472c4" stroke="#111" stroke-width="0.85"/>
<line x1="594.60" y1="285.80" x2="594.60" y2="292.30" stroke="#333" stroke-width="0.8"/>
<line x1="594.60" y1="300.00" x2="594.60" y2="303.50" stroke="#333" stroke-width="0.8"/>
<rect x="588.00" y="292.30" width="13.20" height="7.70" fill="#e8771f" stroke="#333" stroke-width="0.8"/>
<line x1="588.00" y1="297.30" x2="601.20" y2="297.30" stroke="#222" stroke-width="1.1"/>
<circle cx="594.60" cy="285.80" r="2.3" fill="#e8771f" stroke="#111" stroke-width="0.85"/>
<circle cx="594.60" cy="297.30" r="2.3" fill="#e8771f" stroke="#111" stroke-width="0.85"/>
<circle cx="594.60" cy="303.50" r="2.3" fill="#e8771f" stroke="#111" stroke-width="0.85"/>
<rect x="601.70" y="287.90" width="13.20" height="1.80" fill="#a5a5a5" stroke="#3a3a3a" stroke-width="0.75"/>
<line x1="601.70" y1="288.80" x2="614.90" y2="288.80" stroke="#333" stroke-width="0.6"/>
<circle cx="603.90" cy="288.80" r="2.3" fill="#a5a5a5" stroke="#111" stroke-width="0.85"/>
<circle cx="608.30" cy="288.80" r="2.3" fill="#a5a5a5" stroke="#111" stroke-width="0.85"/>
<circle cx="612.70" cy="288.80" r="2.3" fill="#a5a5a5" stroke="#111" stroke-width="0.85"/>
<line x1="622.10" y1="278.20" x2="622.10" y2="282.30" stroke="#333" stroke-width="0.8"/>
<line x1="622.10" y1="290.90" x2="622.10" y2="297.00" stroke="#333" stroke-width="0.8"/>
<rect x="615.50" y="282.30" width="13.20" height="8.60" fill="#4472c4" stroke="#333" stroke-width="0.8"/>
<line x1="615.50" y1="285.80" x2="628.70" y2="285.80" stroke="#222" stroke-width="1.1"/>
<circle cx="622.10" cy="278.20" r="2.3" fill="#4472c4" stroke="#111" stroke-width="0.85"/>
<circle cx="622.10" cy="285.80" r="2.3" fill="#4472c4" stroke="#111" stroke-width="0.85"/>
<circle cx="622.10" cy="297.00" r="2.3" fill="#4472c4" stroke="#111" stroke-width="0.85"/>
<line x1="635.90" y1="291.90" x2="635.90" y2="295.00" stroke="#333" stroke-width="0.8"/>
<rect x="629.30" y="295.00" width="13.20" height="5.50" fill="#e8771f" stroke="#333" stroke-width="0.8"/>
<line x1="629.30" y1="299.70" x2="642.50" y2="299.70" stroke="#222" stroke-width="1.1"/>
<circle cx="635.90" cy="291.90" r="2.3" fill="#e8771f" stroke="#111" stroke-width="0.85"/>
<circle cx="633.40" cy="299.70" r="2.3" fill="#e8771f" stroke="#111" stroke-width="0.85"/>
<circle cx="638.40" cy="299.70" r="2.3" fill="#e8771f" stroke="#111" stroke-width="0.85"/>
<rect x="513.70" y="246.70" width="133.60" height="167.10" fill="none" stroke="#111" stroke-width="1.5"/>
<line x1="539.20" y1="413.80" x2="539.20" y2="416.80" stroke="#222" stroke-width="1.1"/>
<text x="541.10" y="426.90" font-size="9.4" text-anchor="end" stroke="#000" stroke-width="0.18" transform="rotate(-45 541.1 426.9)">pOXA-48_1</text>
<line x1="580.80" y1="413.80" x2="580.80" y2="416.80" stroke="#222" stroke-width="1.1"/>
<text x="583.00" y="426.90" font-size="9.4" text-anchor="end" stroke="#000" stroke-width="0.18" transform="rotate(-45 583.0 426.9)">pOXA-48_2</text>
<line x1="622.10" y1="413.80" x2="622.10" y2="416.80" stroke="#222" stroke-width="1.1"/>
<text x="630.00" y="426.90" font-size="9.4" text-anchor="end" stroke="#000" stroke-width="0.18" transform="rotate(-45 630.0 426.9)">pOXA-48_3</text>
<line x1="373.30" y1="413.60" x2="375.80" y2="413.60" stroke="#222" stroke-width="1.1"/>
<text x="368.80" y="416.55" font-size="8.2" text-anchor="end" stroke="#000" stroke-width="0.18">0</text>
<line x1="373.30" y1="388.11" x2="375.80" y2="388.11" stroke="#222" stroke-width="1.1"/>
<text x="368.80" y="391.06" font-size="8.2" text-anchor="end" stroke="#000" stroke-width="0.18">20</text>
<line x1="373.30" y1="362.62" x2="375.80" y2="362.62" stroke="#222" stroke-width="1.1"/>
<text x="368.80" y="365.57" font-size="8.2" text-anchor="end" stroke="#000" stroke-width="0.18">40</text>
<line x1="373.30" y1="337.13" x2="375.80" y2="337.13" stroke="#222" stroke-width="1.1"/>
<text x="368.80" y="340.08" font-size="8.2" text-anchor="end" stroke="#000" stroke-width="0.18">60</text>
<line x1="373.30" y1="311.64" x2="375.80" y2="311.64" stroke="#222" stroke-width="1.1"/>
<text x="368.80" y="314.59" font-size="8.2" text-anchor="end" stroke="#000" stroke-width="0.18">80</text>
<line x1="373.30" y1="286.15" x2="375.80" y2="286.15" stroke="#222" stroke-width="1.1"/>
<text x="368.80" y="289.10" font-size="8.2" text-anchor="end" stroke="#000" stroke-width="0.18">100</text>
<line x1="373.30" y1="260.66" x2="375.80" y2="260.66" stroke="#222" stroke-width="1.1"/>
<text x="368.80" y="263.61" font-size="8.2" text-anchor="end" stroke="#000" stroke-width="0.18">120</text>
<text x="352.50" y="327.00" font-size="9.45" font-weight="bold" text-anchor="middle" stroke="#000" stroke-width="0.12" transform="rotate(-90 352.5 327.0)">Plasmid-carrying colonies (%)</text>
<text x="652.00" y="307.70" font-size="9.1" font-weight="bold" stroke="#000" stroke-width="0.12">Days</text>
<line x1="658.10" y1="312.70" x2="658.10" y2="326.90" stroke="#222" stroke-width="1.0"/>
<rect x="651.40" y="315.30" width="13.40" height="9.00" fill="#a5a5a5" stroke="#555" stroke-width="0.9"/>
<line x1="651.40" y1="319.80" x2="664.80" y2="319.80" stroke="#222" stroke-width="1.1"/>
<circle cx="658.10" cy="319.80" r="3.0" fill="#a5a5a5" stroke="#111" stroke-width="1.0"/>
<text x="668.30" y="323.10" font-size="9.2" stroke="#000" stroke-width="0.18">D0</text>
<line x1="658.10" y1="329.30" x2="658.10" y2="343.50" stroke="#222" stroke-width="1.0"/>
<rect x="651.40" y="331.90" width="13.40" height="9.00" fill="#4472c4" stroke="#555" stroke-width="0.9"/>
<line x1="651.40" y1="336.40" x2="664.80" y2="336.40" stroke="#222" stroke-width="1.1"/>
<circle cx="658.10" cy="336.40" r="3.0" fill="#4472c4" stroke="#111" stroke-width="1.0"/>
<text x="668.30" y="339.70" font-size="9.2" stroke="#000" stroke-width="0.18">D5</text>
<line x1="658.10" y1="346.40" x2="658.10" y2="360.60" stroke="#222" stroke-width="1.0"/>
<rect x="651.40" y="349.00" width="13.40" height="9.00" fill="#e8771f" stroke="#555" stroke-width="0.9"/>
<line x1="651.40" y1="353.50" x2="664.80" y2="353.50" stroke="#222" stroke-width="1.1"/>
<circle cx="658.10" cy="353.50" r="3.0" fill="#e8771f" stroke="#111" stroke-width="1.0"/>
<text x="668.30" y="356.80" font-size="9.2" stroke="#000" stroke-width="0.18">D10</text>
<text x="1.50" y="441.50" font-size="11" font-weight="bold" stroke="#000" stroke-width="0.12">e</text>
<rect x="37.10" y="441.60" width="67.40" height="37.60" fill="#fff" stroke="#444" stroke-width="0.8"/>
<text x="71.30" y="451.80" font-size="9.2" text-anchor="middle" stroke="#000" stroke-width="0.18">ST38_1</text>
<text x="71.30" y="463.70" font-size="9.2" text-anchor="middle" stroke="#000" stroke-width="0.18">ΔF3141-F3140</text>
<text x="71.30" y="475.50" font-size="9.2" text-anchor="middle" stroke="#000" stroke-width="0.18">pOXA-48_1</text>
<rect x="41.50" y="499.70" width="13.50" height="3.60" fill="#a5a5a5" stroke="#333" stroke-width="0.8"/>
<line x1="41.50" y1="501.50" x2="55.00" y2="501.50" stroke="#222" stroke-width="1.1"/>
<circle cx="48.25" cy="498.50" r="2.2" fill="#a5a5a5" stroke="#111" stroke-width="0.85"/>
<circle cx="45.95" cy="502.50" r="2.2" fill="#a5a5a5" stroke="#111" stroke-width="0.85"/>
<circle cx="50.55" cy="502.50" r="2.2" fill="#a5a5a5" stroke="#111" stroke-width="0.85"/>
<line x1="63.45" y1="509.00" x2="63.45" y2="512.50" stroke="#333" stroke-width="0.8"/>
<rect x="56.70" y="505.60" width="13.50" height="3.40" fill="#4472c4" stroke="#333" stroke-width="0.8"/>
<line x1="56.70" y1="506.50" x2="70.20" y2="506.50" stroke="#222" stroke-width="1.1"/>
<circle cx="61.15" cy="506.00" r="2.2" fill="#4472c4" stroke="#111" stroke-width="0.85"/>
<circle cx="65.75" cy="506.00" r="2.2" fill="#4472c4" stroke="#111" stroke-width="0.85"/>
<circle cx="63.45" cy="512.50" r="2.2" fill="#4472c4" stroke="#111" stroke-width="0.85"/>
<rect x="72.05" y="505.30" width="13.50" height="1.80" fill="#a5a5a5" stroke="#3a3a3a" stroke-width="0.75"/>
<line x1="72.05" y1="506.20" x2="85.55" y2="506.20" stroke="#333" stroke-width="0.6"/>
<circle cx="74.50" cy="506.20" r="2.2" fill="#a5a5a5" stroke="#111" stroke-width="0.85"/>
<circle cx="78.80" cy="506.20" r="2.2" fill="#a5a5a5" stroke="#111" stroke-width="0.85"/>
<circle cx="83.10" cy="506.20" r="2.2" fill="#a5a5a5" stroke="#111" stroke-width="0.85"/>
<line x1="94.00" y1="574.70" x2="94.00" y2="578.60" stroke="#333" stroke-width="0.8"/>
<rect x="87.25" y="578.60" width="13.50" height="4.00" fill="#4472c4" stroke="#333" stroke-width="0.8"/>
<line x1="87.25" y1="580.00" x2="100.75" y2="580.00" stroke="#222" stroke-width="1.1"/>
<circle cx="94.00" cy="574.70" r="2.2" fill="#4472c4" stroke="#111" stroke-width="0.85"/>
<circle cx="91.70" cy="583.00" r="2.2" fill="#4472c4" stroke="#111" stroke-width="0.85"/>
<circle cx="96.30" cy="583.00" r="2.2" fill="#4472c4" stroke="#111" stroke-width="0.85"/>
<rect x="37.10" y="479.20" width="67.40" height="127.80" fill="none" stroke="#111" stroke-width="1.5"/>
<line x1="55.85" y1="607.00" x2="55.85" y2="610.00" stroke="#222" stroke-width="1.1"/>
<line x1="86.40" y1="607.00" x2="86.40" y2="610.00" stroke="#222" stroke-width="1.1"/>
<text x="59.25" y="618.60" font-size="9.5" text-anchor="end" stroke="#000" stroke-width="0.18" transform="rotate(-45 59.25 618.6)">pHV7-</text>
<text x="90.20" y="619.00" font-size="9.5" text-anchor="end" stroke="#000" stroke-width="0.18" transform="rotate(-45 90.2 619.0)">F3141-F3140</text>
<rect x="111.30" y="441.60" width="67.80" height="37.60" fill="#fff" stroke="#444" stroke-width="0.8"/>
<text x="145.70" y="451.80" font-size="9.2" text-anchor="middle" stroke="#000" stroke-width="0.18">ST38_1</text>
<text x="145.70" y="463.70" font-size="9.2" text-anchor="middle" stroke="#000" stroke-width="0.18">ΔF3141-F3140</text>
<text x="145.70" y="475.50" font-size="9.2" text-anchor="middle" stroke="#000" stroke-width="0.18">pOXA-48_2</text>
<line x1="122.45" y1="500.60" x2="122.45" y2="504.40" stroke="#333" stroke-width="0.8"/>
<line x1="122.45" y1="510.70" x2="122.45" y2="513.60" stroke="#333" stroke-width="0.8"/>
<rect x="115.70" y="504.40" width="13.50" height="6.30" fill="#a5a5a5" stroke="#333" stroke-width="0.8"/>
<line x1="115.70" y1="507.30" x2="129.20" y2="507.30" stroke="#222" stroke-width="1.1"/>
<circle cx="122.45" cy="500.60" r="2.2" fill="#a5a5a5" stroke="#111" stroke-width="0.85"/>
<circle cx="122.45" cy="507.30" r="2.2" fill="#a5a5a5" stroke="#111" stroke-width="0.85"/>
<circle cx="122.45" cy="513.60" r="2.2" fill="#a5a5a5" stroke="#111" stroke-width="0.85"/>
<line x1="137.65" y1="501.50" x2="137.65" y2="506.40" stroke="#333" stroke-width="0.8"/>
<rect x="130.90" y="506.40" width="13.50" height="7.20" fill="#4472c4" stroke="#333" stroke-width="0.8"/>
<line x1="130.90" y1="508.00" x2="144.40" y2="508.00" stroke="#222" stroke-width="1.1"/>
<circle cx="137.65" cy="501.50" r="2.2" fill="#4472c4" stroke="#111" stroke-width="0.85"/>
<circle cx="135.35" cy="513.00" r="2.2" fill="#4472c4" stroke="#111" stroke-width="0.85"/>
<circle cx="139.95" cy="513.00" r="2.2" fill="#4472c4" stroke="#111" stroke-width="0.85"/>
<line x1="153.00" y1="498.30" x2="153.00" y2="502.00" stroke="#333" stroke-width="0.8"/>
<rect x="146.25" y="502.00" width="13.50" height="5.30" fill="#a5a5a5" stroke="#333" stroke-width="0.8"/>
<line x1="146.25" y1="504.00" x2="159.75" y2="504.00" stroke="#222" stroke-width="1.1"/>
<circle cx="153.00" cy="498.30" r="2.2" fill="#a5a5a5" stroke="#111" stroke-width="0.85"/>
<circle cx="150.70" cy="507.00" r="2.2" fill="#a5a5a5" stroke="#111" stroke-width="0.85"/>
<circle cx="155.30" cy="507.00" r="2.2" fill="#a5a5a5" stroke="#111" stroke-width="0.85"/>
<line x1="168.20" y1="579.30" x2="168.20" y2="584.20" stroke="#333" stroke-width="0.8"/>
<rect x="161.45" y="584.20" width="13.50" height="5.80" fill="#4472c4" stroke="#333" stroke-width="0.8"/>
<line x1="161.45" y1="585.50" x2="174.95" y2="585.50" stroke="#222" stroke-width="1.1"/>
<circle cx="168.20" cy="579.30" r="2.2" fill="#4472c4" stroke="#111" stroke-width="0.85"/>
<circle cx="165.90" cy="589.00" r="2.2" fill="#4472c4" stroke="#111" stroke-width="0.85"/>
<circle cx="170.50" cy="589.00" r="2.2" fill="#4472c4" stroke="#111" stroke-width="0.85"/>
<rect x="111.30" y="479.20" width="67.80" height="127.80" fill="none" stroke="#111" stroke-width="1.5"/>
<line x1="130.05" y1="607.00" x2="130.05" y2="610.00" stroke="#222" stroke-width="1.1"/>
<line x1="160.60" y1="607.00" x2="160.60" y2="610.00" stroke="#222" stroke-width="1.1"/>
<text x="133.45" y="618.60" font-size="9.5" text-anchor="end" stroke="#000" stroke-width="0.18" transform="rotate(-45 133.45000000000002 618.6)">pHV7</text>
<text x="164.40" y="619.00" font-size="9.5" text-anchor="end" stroke="#000" stroke-width="0.18" transform="rotate(-45 164.4 619.0)">F3141-F3140</text>
<rect x="186.30" y="441.60" width="67.20" height="37.60" fill="#fff" stroke="#444" stroke-width="0.8"/>
<text x="220.40" y="451.80" font-size="9.2" text-anchor="middle" stroke="#000" stroke-width="0.18">ST38_1</text>
<text x="220.40" y="463.70" font-size="9.2" text-anchor="middle" stroke="#000" stroke-width="0.18">ΔF3141-F3140</text>
<text x="220.40" y="475.50" font-size="9.2" text-anchor="middle" stroke="#000" stroke-width="0.18">pOXA-48_3</text>
<line x1="197.45" y1="500.00" x2="197.45" y2="502.60" stroke="#333" stroke-width="0.8"/>
<rect x="190.70" y="502.60" width="13.50" height="3.80" fill="#a5a5a5" stroke="#333" stroke-width="0.8"/>
<line x1="190.70" y1="503.50" x2="204.20" y2="503.50" stroke="#222" stroke-width="1.1"/>
<circle cx="197.45" cy="500.00" r="2.2" fill="#a5a5a5" stroke="#111" stroke-width="0.85"/>
<circle cx="195.15" cy="505.00" r="2.2" fill="#a5a5a5" stroke="#111" stroke-width="0.85"/>
<circle cx="199.75" cy="505.00" r="2.2" fill="#a5a5a5" stroke="#111" stroke-width="0.85"/>
<line x1="212.65" y1="501.50" x2="212.65" y2="504.40" stroke="#333" stroke-width="0.8"/>
<rect x="205.90" y="504.40" width="13.50" height="4.00" fill="#4472c4" stroke="#333" stroke-width="0.8"/>
<line x1="205.90" y1="505.00" x2="219.40" y2="505.00" stroke="#222" stroke-width="1.1"/>
<circle cx="212.65" cy="501.50" r="2.2" fill="#4472c4" stroke="#111" stroke-width="0.85"/>
<circle cx="210.35" cy="507.50" r="2.2" fill="#4472c4" stroke="#111" stroke-width="0.85"/>
<circle cx="214.95" cy="507.50" r="2.2" fill="#4472c4" stroke="#111" stroke-width="0.85"/>
<line x1="228.00" y1="504.40" x2="228.00" y2="507.30" stroke="#333" stroke-width="0.8"/>
<rect x="221.25" y="507.30" width="13.50" height="4.90" fill="#a5a5a5" stroke="#333" stroke-width="0.8"/>
<line x1="221.25" y1="508.50" x2="234.75" y2="508.50" stroke="#222" stroke-width="1.1"/>
<circle cx="228.00" cy="504.40" r="2.2" fill="#a5a5a5" stroke="#111" stroke-width="0.85"/>
<circle cx="225.70" cy="511.00" r="2.2" fill="#a5a5a5" stroke="#111" stroke-width="0.85"/>
<circle cx="230.30" cy="511.00" r="2.2" fill="#a5a5a5" stroke="#111" stroke-width="0.85"/>
<line x1="243.20" y1="573.60" x2="243.20" y2="576.40" stroke="#333" stroke-width="0.8"/>
<rect x="236.45" y="576.40" width="13.50" height="3.60" fill="#4472c4" stroke="#333" stroke-width="0.8"/>
<line x1="236.45" y1="578.00" x2="249.95" y2="578.00" stroke="#222" stroke-width="1.1"/>
<circle cx="243.20" cy="573.60" r="2.2" fill="#4472c4" stroke="#111" stroke-width="0.85"/>
<circle cx="240.90" cy="579.00" r="2.2" fill="#4472c4" stroke="#111" stroke-width="0.85"/>
<circle cx="245.50" cy="579.00" r="2.2" fill="#4472c4" stroke="#111" stroke-width="0.85"/>
<rect x="186.30" y="479.20" width="67.20" height="127.80" fill="none" stroke="#111" stroke-width="1.5"/>
<line x1="205.05" y1="607.00" x2="205.05" y2="610.00" stroke="#222" stroke-width="1.1"/>
<line x1="235.60" y1="607.00" x2="235.60" y2="610.00" stroke="#222" stroke-width="1.1"/>
<text x="208.45" y="618.60" font-size="9.5" text-anchor="end" stroke="#000" stroke-width="0.18" transform="rotate(-45 208.45000000000002 618.6)">pHV7</text>
<text x="239.40" y="619.00" font-size="9.5" text-anchor="end" stroke="#000" stroke-width="0.18" transform="rotate(-45 239.40000000000003 619.0)">F3141-F3140</text>
<line x1="34.10" y1="607.00" x2="37.10" y2="607.00" stroke="#222" stroke-width="1.1"/>
<text x="32.10" y="610.10" font-size="8.6" text-anchor="end" stroke="#000" stroke-width="0.18">0</text>
<line x1="34.10" y1="587.20" x2="37.10" y2="587.20" stroke="#222" stroke-width="1.1"/>
<text x="32.10" y="590.30" font-size="8.6" text-anchor="end" stroke="#000" stroke-width="0.18">20</text>
<line x1="34.10" y1="567.40" x2="37.10" y2="567.40" stroke="#222" stroke-width="1.1"/>
<text x="32.10" y="570.50" font-size="8.6" text-anchor="end" stroke="#000" stroke-width="0.18">40</text>
<line x1="34.10" y1="547.60" x2="37.10" y2="547.60" stroke="#222" stroke-width="1.1"/>
<text x="32.10" y="550.70" font-size="8.6" text-anchor="end" stroke="#000" stroke-width="0.18">60</text>
<line x1="34.10" y1="527.80" x2="37.10" y2="527.80" stroke="#222" stroke-width="1.1"/>
<text x="32.10" y="530.90" font-size="8.6" text-anchor="end" stroke="#000" stroke-width="0.18">80</text>
<line x1="34.10" y1="508.00" x2="37.10" y2="508.00" stroke="#222" stroke-width="1.1"/>
<text x="32.10" y="511.10" font-size="8.6" text-anchor="end" stroke="#000" stroke-width="0.18">100</text>
<line x1="34.10" y1="488.20" x2="37.10" y2="488.20" stroke="#222" stroke-width="1.1"/>
<text x="32.10" y="491.30" font-size="8.6" text-anchor="end" stroke="#000" stroke-width="0.18">120</text>
<text x="10.00" y="540.20" font-size="9.3" font-weight="bold" text-anchor="middle" stroke="#000" stroke-width="0.12" transform="rotate(-90 10.0 540.2)">Plasmid-carrying colonies (%)</text>
<text x="262.40" y="527.70" font-size="9.2" font-weight="bold" stroke="#000" stroke-width="0.12">Induction</text>
<line x1="267.30" y1="534.60" x2="267.30" y2="548.60" stroke="#222" stroke-width="1.0"/>
<rect x="260.50" y="537.20" width="13.60" height="8.80" fill="#a5a5a5" stroke="#555" stroke-width="0.9"/>
<line x1="260.50" y1="541.60" x2="274.10" y2="541.60" stroke="#222" stroke-width="1.1"/>
<circle cx="267.30" cy="541.60" r="3.0" fill="#a5a5a5" stroke="#111" stroke-width="1.0"/>
<text x="278.00" y="544.70" font-size="9.2" stroke="#000" stroke-width="0.18">t0 Glc 0.4%</text>
<line x1="267.30" y1="551.50" x2="267.30" y2="565.50" stroke="#222" stroke-width="1.0"/>
<rect x="260.50" y="554.10" width="13.60" height="8.80" fill="#4472c4" stroke="#555" stroke-width="0.9"/>
<line x1="260.50" y1="558.50" x2="274.10" y2="558.50" stroke="#222" stroke-width="1.1"/>
<circle cx="267.30" cy="558.50" r="3.0" fill="#4472c4" stroke="#111" stroke-width="1.0"/>
<text x="278.00" y="561.60" font-size="9.2" stroke="#000" stroke-width="0.18">t1 Ara 0.02%</text>
<text x="352.00" y="481.80" font-size="11" font-weight="bold" stroke="#000" stroke-width="0.12">f</text>
<rect x="409.90" y="485.40" width="197.30" height="24.10" fill="#fff" stroke="#444" stroke-width="0.8"/>
<text x="509.60" y="495.00" font-size="9.2" text-anchor="middle" stroke="#000" stroke-width="0.18">ST38_1 ΔF3141F3140</text>
<text x="508.80" y="506.70" font-size="9.2" text-anchor="middle" stroke="#000" stroke-width="0.18">pOXA-48_1</text>
<rect x="415.30" y="526.30" width="18.00" height="1.80" fill="#a5a5a5" stroke="#3a3a3a" stroke-width="0.75"/>
<line x1="415.30" y1="527.20" x2="433.30" y2="527.20" stroke="#333" stroke-width="0.6"/>
<ellipse cx="420.00" cy="527.20" rx="2.6" ry="1.8" fill="#a5a5a5" stroke="#111" stroke-width="0.85"/>
<ellipse cx="424.30" cy="527.20" rx="2.6" ry="1.8" fill="#a5a5a5" stroke="#111" stroke-width="0.85"/>
<ellipse cx="428.60" cy="527.20" rx="2.6" ry="1.8" fill="#a5a5a5" stroke="#111" stroke-width="0.85"/>
<rect x="435.70" y="527.50" width="18.00" height="1.80" fill="#4472c4" stroke="#3a3a3a" stroke-width="0.75"/>
<line x1="435.70" y1="528.40" x2="453.70" y2="528.40" stroke="#333" stroke-width="0.6"/>
<ellipse cx="440.40" cy="528.40" rx="2.6" ry="1.8" fill="#4472c4" stroke="#111" stroke-width="0.85"/>
<ellipse cx="444.70" cy="528.40" rx="2.6" ry="1.8" fill="#4472c4" stroke="#111" stroke-width="0.85"/>
<ellipse cx="449.00" cy="528.40" rx="2.6" ry="1.8" fill="#4472c4" stroke="#111" stroke-width="0.85"/>
<line x1="473.70" y1="524.60" x2="473.70" y2="528.40" stroke="#333" stroke-width="0.8"/>
<line x1="473.70" y1="533.50" x2="473.70" y2="535.70" stroke="#333" stroke-width="0.8"/>
<rect x="464.70" y="528.40" width="18.00" height="5.10" fill="#a5a5a5" stroke="#333" stroke-width="0.8"/>
<line x1="464.70" y1="531.00" x2="482.70" y2="531.00" stroke="#222" stroke-width="1.1"/>
<ellipse cx="473.70" cy="524.60" rx="2.6" ry="1.8" fill="#a5a5a5" stroke="#111" stroke-width="0.85"/>
<ellipse cx="473.70" cy="531.00" rx="2.6" ry="1.8" fill="#a5a5a5" stroke="#111" stroke-width="0.85"/>
<ellipse cx="473.70" cy="535.70" rx="2.6" ry="1.8" fill="#a5a5a5" stroke="#111" stroke-width="0.85"/>
<line x1="494.10" y1="604.90" x2="494.10" y2="607.50" stroke="#333" stroke-width="0.8"/>
<rect x="485.10" y="601.50" width="18.00" height="3.40" fill="#4472c4" stroke="#333" stroke-width="0.8"/>
<line x1="485.10" y1="602.00" x2="503.10" y2="602.00" stroke="#222" stroke-width="1.1"/>
<ellipse cx="491.80" cy="601.10" rx="2.6" ry="1.8" fill="#4472c4" stroke="#111" stroke-width="0.85"/>
<ellipse cx="496.40" cy="601.10" rx="2.6" ry="1.8" fill="#4472c4" stroke="#111" stroke-width="0.85"/>
<ellipse cx="494.10" cy="607.50" rx="2.6" ry="1.8" fill="#4472c4" stroke="#111" stroke-width="0.85"/>
<rect x="514.10" y="526.30" width="18.00" height="1.80" fill="#a5a5a5" stroke="#3a3a3a" stroke-width="0.75"/>
<line x1="514.10" y1="527.20" x2="532.10" y2="527.20" stroke="#333" stroke-width="0.6"/>
<ellipse cx="518.80" cy="527.20" rx="2.6" ry="1.8" fill="#a5a5a5" stroke="#111" stroke-width="0.85"/>
<ellipse cx="523.10" cy="527.20" rx="2.6" ry="1.8" fill="#a5a5a5" stroke="#111" stroke-width="0.85"/>
<ellipse cx="527.40" cy="527.20" rx="2.6" ry="1.8" fill="#a5a5a5" stroke="#111" stroke-width="0.85"/>
<line x1="543.50" y1="518.50" x2="543.50" y2="523.40" stroke="#333" stroke-width="0.8"/>
<line x1="543.50" y1="530.10" x2="543.50" y2="531.80" stroke="#333" stroke-width="0.8"/>
<rect x="534.50" y="523.40" width="18.00" height="6.70" fill="#4472c4" stroke="#333" stroke-width="0.8"/>
<line x1="534.50" y1="526.50" x2="552.50" y2="526.50" stroke="#222" stroke-width="1.1"/>
<ellipse cx="543.50" cy="518.50" rx="2.6" ry="1.8" fill="#4472c4" stroke="#111" stroke-width="0.85"/>
<ellipse cx="543.50" cy="526.50" rx="2.6" ry="1.8" fill="#4472c4" stroke="#111" stroke-width="0.85"/>
<ellipse cx="543.50" cy="531.80" rx="2.6" ry="1.8" fill="#4472c4" stroke="#111" stroke-width="0.85"/>
<rect x="563.50" y="527.80" width="18.00" height="1.80" fill="#a5a5a5" stroke="#3a3a3a" stroke-width="0.75"/>
<line x1="563.50" y1="528.70" x2="581.50" y2="528.70" stroke="#333" stroke-width="0.6"/>
<ellipse cx="568.20" cy="528.70" rx="2.6" ry="1.8" fill="#a5a5a5" stroke="#111" stroke-width="0.85"/>
<ellipse cx="572.50" cy="528.70" rx="2.6" ry="1.8" fill="#a5a5a5" stroke="#111" stroke-width="0.85"/>
<ellipse cx="576.80" cy="528.70" rx="2.6" ry="1.8" fill="#a5a5a5" stroke="#111" stroke-width="0.85"/>
<line x1="592.90" y1="522.90" x2="592.90" y2="526.20" stroke="#333" stroke-width="0.8"/>
<line x1="592.90" y1="531.80" x2="592.90" y2="533.50" stroke="#333" stroke-width="0.8"/>
<rect x="583.90" y="526.20" width="18.00" height="5.60" fill="#4472c4" stroke="#333" stroke-width="0.8"/>
<line x1="583.90" y1="528.20" x2="601.90" y2="528.20" stroke="#222" stroke-width="1.1"/>
<ellipse cx="592.90" cy="522.90" rx="2.6" ry="1.8" fill="#4472c4" stroke="#111" stroke-width="0.85"/>
<ellipse cx="592.90" cy="528.20" rx="2.6" ry="1.8" fill="#4472c4" stroke="#111" stroke-width="0.85"/>
<ellipse cx="592.90" cy="533.50" rx="2.6" ry="1.8" fill="#4472c4" stroke="#111" stroke-width="0.85"/>
<rect x="409.90" y="509.50" width="197.30" height="112.00" fill="none" stroke="#111" stroke-width="1.5"/>
<line x1="434.50" y1="621.50" x2="434.50" y2="624.00" stroke="#222" stroke-width="1.1"/>
<line x1="483.90" y1="621.50" x2="483.90" y2="624.00" stroke="#222" stroke-width="1.1"/>
<line x1="533.30" y1="621.50" x2="533.30" y2="624.00" stroke="#222" stroke-width="1.1"/>
<line x1="582.70" y1="621.50" x2="582.70" y2="624.00" stroke="#222" stroke-width="1.1"/>
<line x1="459.10" y1="620.40" x2="459.10" y2="622.60" stroke="#fff" stroke-width="0.8"/>
<line x1="508.40" y1="620.40" x2="508.40" y2="622.60" stroke="#fff" stroke-width="0.8"/>
<line x1="558.60" y1="620.40" x2="558.60" y2="622.60" stroke="#fff" stroke-width="0.8"/>
<line x1="407.40" y1="621.50" x2="409.90" y2="621.50" stroke="#222" stroke-width="1.1"/>
<text x="406.40" y="624.45" font-size="8.2" text-anchor="end" stroke="#000" stroke-width="0.18">0</text>
<line x1="407.40" y1="602.82" x2="409.90" y2="602.82" stroke="#222" stroke-width="1.1"/>
<text x="406.40" y="605.77" font-size="8.2" text-anchor="end" stroke="#000" stroke-width="0.18">20</text>
<line x1="407.40" y1="584.14" x2="409.90" y2="584.14" stroke="#222" stroke-width="1.1"/>
<text x="406.40" y="587.09" font-size="8.2" text-anchor="end" stroke="#000" stroke-width="0.18">40</text>
<line x1="407.40" y1="565.46" x2="409.90" y2="565.46" stroke="#222" stroke-width="1.1"/>
<text x="406.40" y="568.41" font-size="8.2" text-anchor="end" stroke="#000" stroke-width="0.18">60</text>
<line x1="407.40" y1="546.78" x2="409.90" y2="546.78" stroke="#222" stroke-width="1.1"/>
<text x="406.40" y="549.73" font-size="8.2" text-anchor="end" stroke="#000" stroke-width="0.18">80</text>
<line x1="407.40" y1="528.10" x2="409.90" y2="528.10" stroke="#222" stroke-width="1.1"/>
<text x="406.40" y="531.05" font-size="8.2" text-anchor="end" stroke="#000" stroke-width="0.18">100</text>
<line x1="407.40" y1="509.42" x2="409.90" y2="509.42" stroke="#222" stroke-width="1.1"/>
<text x="406.40" y="512.37" font-size="8.2" text-anchor="end" stroke="#000" stroke-width="0.18">120</text>
<text x="392.50" y="555.00" font-size="9.3" font-weight="bold" text-anchor="middle" stroke="#000" stroke-width="0.12" transform="rotate(-90 392.5 555.0)">Plasmid-carrying colonies (%)</text>
<text x="425.90" y="634.80" font-size="9.2" stroke="#000" stroke-width="0.18">pHV7</text>
<text x="467.20" y="634.80" font-size="9.2" stroke="#000" stroke-width="0.18">F3141-</text>
<text x="467.20" y="646.20" font-size="9.2" stroke="#000" stroke-width="0.18">F3140</text>
<text x="519.20" y="634.80" font-size="9.2" stroke="#000" stroke-width="0.18">F3141</text>
<text x="499.60" y="646.20" font-size="9.2" stroke="#000" stroke-width="0.18">[A633S ;Y677*]</text>
<text x="518.00" y="657.60" font-size="9.2" stroke="#000" stroke-width="0.18">-F3140</text>
<text x="568.40" y="634.80" font-size="9.2" stroke="#000" stroke-width="0.18">F3141-</text>
<text x="568.40" y="646.20" font-size="9.2" stroke="#000" stroke-width="0.18">F3140[S158*]</text>
<text x="612.20" y="557.00" font-size="9.2" font-weight="bold" stroke="#000" stroke-width="0.12">Induction</text>
<line x1="617.15" y1="563.90" x2="617.15" y2="578.10" stroke="#222" stroke-width="1.0"/>
<rect x="610.30" y="566.50" width="13.70" height="9.00" fill="#a5a5a5" stroke="#555" stroke-width="0.9"/>
<line x1="610.30" y1="571.00" x2="624.00" y2="571.00" stroke="#222" stroke-width="1.1"/>
<circle cx="617.15" cy="571.00" r="3.0" fill="#a5a5a5" stroke="#111" stroke-width="1.0"/>
<text x="627.70" y="574.10" font-size="9.2" stroke="#000" stroke-width="0.18">t0 Glc 0.4%</text>
<line x1="617.15" y1="581.30" x2="617.15" y2="595.50" stroke="#222" stroke-width="1.0"/>
<rect x="610.30" y="583.90" width="13.70" height="9.00" fill="#4472c4" stroke="#555" stroke-width="0.9"/>
<line x1="610.30" y1="588.40" x2="624.00" y2="588.40" stroke="#222" stroke-width="1.1"/>
<circle cx="617.15" cy="588.40" r="3.0" fill="#4472c4" stroke="#111" stroke-width="1.0"/>
<text x="627.70" y="591.50" font-size="9.2" stroke="#000" stroke-width="0.18">t1 Ara 0.02%</text>
</svg>
</body></html>
